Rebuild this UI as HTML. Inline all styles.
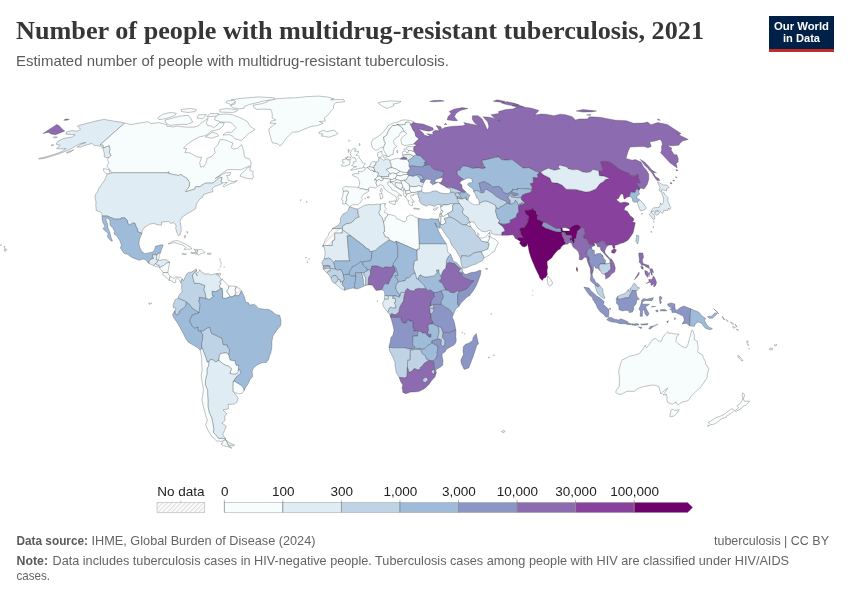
<!DOCTYPE html>
<html><head><meta charset="utf-8"><title>Number of people with multidrug-resistant tuberculosis, 2021</title>
<style>
html,body{margin:0;padding:0;background:#fff}
body{width:850px;height:600px;overflow:hidden;position:relative;font-family:"Liberation Sans",sans-serif}
svg{position:absolute;left:0;top:0}
#map path{stroke:#333;stroke-width:.35;stroke-opacity:.85;stroke-linejoin:round}
text{font-family:"Liberation Sans",sans-serif}
.ttl{font-family:"Liberation Serif",serif;font-weight:700;font-size:26px;fill:#363636}
.sub{font-size:15px;fill:#5b5b5b}
.ft{font-size:13px;fill:#646464}
.lg{font-size:13.5px;fill:#222;text-anchor:middle}
.b{font-weight:700;fill:#5b5b5b}
</style></head><body>
<svg width="850" height="600" viewBox="0 0 850 600">
<defs><pattern id="nd" width="3.2" height="3.2" patternUnits="userSpaceOnUse" patternTransform="rotate(45)"><rect width="3.2" height="3.2" fill="#fafafa"/><line x1="0" y1="0" x2="0" y2="3.2" stroke="#d6d6d6" stroke-width="1.4"/></pattern><pattern id="ndm" width="4.4" height="4.4" patternUnits="userSpaceOnUse" patternTransform="rotate(45)"><rect width="4.4" height="4.4" fill="#fff"/><rect width="2.2" height="4.4" fill="#ebebeb"/></pattern></defs>
<text class="ttl" x="16" y="39" textLength="688" lengthAdjust="spacingAndGlyphs">Number of people with multidrug-resistant tuberculosis, 2021</text>
<text class="sub" x="16" y="66" textLength="433" lengthAdjust="spacingAndGlyphs">Estimated number of people with multidrug-resistant tuberculosis.</text>
<g id="logo">
<rect x="769" y="16" width="65" height="35.7" fill="#002147"/>
<rect x="769" y="49" width="65" height="2.7" fill="#ce261e"/>
<text x="801.5" y="30.4" text-anchor="middle" font-size="11.6" font-weight="700" fill="#fff" textLength="55" lengthAdjust="spacingAndGlyphs">Our World</text>
<text x="801.5" y="42.4" text-anchor="middle" font-size="11.6" font-weight="700" fill="#fff" textLength="37" lengthAdjust="spacingAndGlyphs">in Data</text>
</g>
<g id="map">
<path d="M279.9,145.8L277.0,143.4L272.5,143.0L271.1,139.4L270.0,135.4L269.1,131.2L268.9,128.9L273.5,125.1L276.0,123.3L270.1,123.3L271.2,121.1L275.9,120.0L272.1,117.9L272.3,114.7L271.7,111.5L270.8,109.5L263.3,109.1L256.8,109.5L253.9,107.6L253.0,105.2L261.8,103.7L267.8,101.7L267.5,100.5L276.1,98.9L285.2,98.1L295.2,97.8L307.0,96.6L318.3,96.1L327.5,97.0L333.9,98.6L330.7,99.8L343.6,99.4L344.6,101.7L335.7,102.7L333.5,105.6L333.6,108.5L330.6,111.5L328.4,114.7L324.4,117.9L325.4,121.1L319.4,121.5L323.2,123.3L317.7,125.5L310.6,126.7L304.8,128.9L298.7,131.7L292.4,132.3L288.6,135.8L284.4,140.6L282.3,144.2Z" fill="#f7fcfd"/>
<path d="M318.8,132.3L323.6,130.3L326.9,131.7L330.5,130.8L334.1,130.1L336.4,132.3L338.1,133.5L335.2,135.1L328.7,137.3L324.3,136.3L321.3,136.1L322.9,134.0L319.4,133.7Z" fill="#f7fcfd"/>
<path d="M124.5,123.1L131.1,124.6L137.8,123.3L148.0,121.7L151.0,123.5L158.7,122.6L166.8,124.6L166.9,126.2L173.2,126.9L177.4,126.0L181.9,126.7L186.7,127.1L193.6,127.1L197.9,126.0L201.0,123.3L208.2,118.1L206.4,122.8L207.7,125.5L211.4,126.2L213.7,127.8L217.9,124.4L219.2,122.6L224.1,122.8L223.4,125.5L219.8,128.9L215.2,130.5L211.2,131.2L207.0,134.7L204.4,135.8L199.1,137.0L191.8,141.1L185.9,145.3L183.6,148.3L186.7,148.5L184.9,152.7L189.7,152.7L192.5,154.4L196.8,156.9L201.8,157.4L199.7,162.7L200.6,167.0L203.9,166.5L205.7,163.9L206.9,160.2L206.8,158.4L211.7,156.4L215.2,152.7L214.1,148.3L217.6,145.3L220.1,139.6L224.5,139.9L227.7,140.6L229.8,141.8L232.9,143.0L231.3,147.8L233.6,149.0L237.7,148.3L241.6,144.6L242.2,146.6L243.9,151.5L244.2,155.2L245.1,157.6L249.5,158.9L251.2,162.7L250.9,165.2L247.8,166.7L240.7,169.8L232.7,169.5L227.6,169.8L223.6,172.3L218.0,176.7L215.2,178.5L219.3,175.9L225.5,172.8L230.6,172.6L229.7,175.4L226.6,175.4L227.8,178.0L228.2,180.1L230.9,181.1L233.9,181.6L237.3,180.6L234.6,182.6L228.9,184.2L223.9,187.1L222.8,185.8L227.4,182.4L222.0,182.9L220.9,181.3L222.1,177.7L219.5,177.0L215.9,180.8L212.5,183.1L205.8,183.1L204.4,183.7L201.4,185.5L200.2,186.7L196.2,186.7L195.0,187.2L195.1,187.7L195.0,188.9L192.8,189.7L189.5,190.5L185.9,191.8L185.3,191.0L187.2,189.4L189.0,186.8L189.8,182.4L188.3,181.1L188.6,180.3L187.0,179.3L186.8,178.2L184.0,176.7L181.0,174.6L178.4,175.4L173.7,174.6L168.8,173.6L168.6,171.8L168.1,172.8L111.7,172.8L111.4,172.1L109.9,169.5L106.8,166.5L108.7,162.7L107.4,159.4L108.8,157.6L111.0,155.2L109.3,152.7L109.9,149.0L109.3,146.6L109.1,145.8L103.3,148.0L103.0,145.3L100.1,144.6Z" fill="#f7fcfd"/>
<path d="M255.0,129.6L248.6,133.5L245.0,137.0L241.4,140.6L235.0,138.9L232.8,136.3L229.3,134.7L222.8,135.1L226.3,132.3L231.6,132.3L236.1,127.8L234.1,125.5L230.9,122.6L227.9,122.1L221.2,122.1L218.7,121.1L214.7,120.0L214.9,117.9L217.8,114.7L226.3,114.0L232.2,114.7L235.9,116.2L239.8,117.5L244.5,120.0L248.0,122.1L249.5,125.5L253.1,128.3Z" fill="#f7fcfd"/>
<path d="M169.6,118.9L179.3,116.2L188.3,115.3L190.4,117.9L192.7,122.1L187.3,124.4L180.6,124.4L169.5,125.3L165.4,122.6L165.0,120.0Z" fill="#f7fcfd"/>
<path d="M157.7,117.9L158.9,119.6L164.6,118.9L174.9,115.7L176.3,113.2L170.7,112.5L163.3,114.0Z" fill="#f7fcfd"/>
<path d="M243.9,108.5L238.9,108.9L232.6,107.6L230.2,105.6L235.3,103.7L232.6,100.9L231.2,99.8L241.7,98.3L258.6,96.9L274.3,97.8L274.3,99.4L264.2,100.9L256.8,102.7L249.1,104.6L244.2,106.6Z" fill="#f7fcfd"/>
<path d="M236.4,111.5L232.3,112.5L220.1,112.1L219.7,109.5L227.0,108.5L237.9,109.9Z" fill="#f7fcfd"/>
<path d="M231.2,104.6L226.1,102.7L226.8,100.9L233.6,100.2L235.9,101.7Z" fill="#f7fcfd"/>
<path d="M195.5,111.5L188.1,112.5L181.4,111.5L181.1,109.5L190.2,108.5L196.5,109.5Z" fill="#f7fcfd"/>
<path d="M216.5,116.2L207.0,116.8L210.0,113.6L218.7,113.6Z" fill="#f7fcfd"/>
<path d="M202.5,118.9L197.0,117.9L198.6,114.7L206.6,114.7Z" fill="#f7fcfd"/>
<path d="M218.8,135.8L211.9,138.2L205.4,137.0L212.2,132.3L216.7,133.5Z" fill="#f7fcfd"/>
<path d="M240.1,176.2L246.3,178.2L252.3,179.0L253.7,176.2L252.6,174.1L253.3,171.5L249.6,170.3L250.9,166.5L247.5,167.7L244.2,171.5L240.8,174.1Z" fill="#f7fcfd"/>
<path d="M103.6,168.5L109.3,169.8L109.8,173.6L109.2,174.6L105.9,173.4L103.5,170.8Z" fill="#f7fcfd"/>
<path d="M106.9,174.4L111.7,172.8L168.1,172.8L168.6,171.8L168.8,173.6L173.7,174.6L178.4,175.4L181.0,174.6L184.0,176.7L186.8,178.2L187.0,179.3L188.6,180.3L188.3,181.1L189.8,182.4L189.0,186.8L187.2,189.4L185.3,191.0L185.9,191.8L189.5,190.5L192.8,189.7L195.0,188.9L195.1,187.7L195.0,187.2L196.2,186.7L200.2,186.7L201.4,185.5L204.4,183.7L205.8,183.1L212.5,183.1L215.9,180.8L219.5,177.0L222.1,177.7L220.9,181.3L222.0,182.9L221.7,183.9L216.9,185.8L214.1,186.8L212.0,189.2L213.2,191.0L212.9,191.8L210.2,192.3L203.4,194.6L202.5,197.5L200.0,198.8L198.2,201.5L196.3,204.1L195.7,208.6L192.3,210.7L189.8,212.3L185.9,214.6L181.9,217.3L180.0,221.2L181.0,226.5L181.3,231.0L179.9,235.0L178.2,235.5L176.9,232.6L175.7,228.4L176.1,225.2L173.9,222.6L170.8,223.4L168.5,221.5L165.1,221.8L161.7,222.0L161.5,225.2L157.7,224.7L153.5,223.4L149.6,224.2L144.9,227.1L142.3,230.5L141.9,233.3L137.7,231.8L137.6,229.2L136.0,226.5L134.8,223.1L132.3,223.2L130.2,225.2L127.7,223.6L127.4,220.7L125.0,217.9L121.2,217.9L120.8,219.1L114.4,219.1L107.2,216.0L102.1,216.0L102.1,214.6L100.6,212.0L96.3,210.7L95.8,205.2L96.0,202.0L95.2,197.5L95.1,195.2L97.9,191.0L98.7,188.4L104.7,180.1Z" fill="#e0ecf4"/>
<path d="M124.5,123.1L100.1,144.6L103.0,145.3L103.3,148.0L109.1,145.8L109.3,146.6L109.9,149.0L109.3,152.7L111.0,155.2L108.8,157.6L105.8,157.6L104.0,156.4L104.4,153.9L103.8,151.5L103.5,149.8L102.5,147.8L100.4,146.1L93.7,145.3L92.1,143.4L85.3,145.3L80.7,147.1L77.1,147.3L81.1,144.2L85.8,142.5L81.0,143.4L74.7,146.6L70.9,148.8L63.6,152.0L56.7,154.7L48.9,157.1L43.7,158.4L38.5,159.1L39.2,158.4L45.0,157.1L50.8,155.4L58.2,153.0L62.3,151.2L66.0,148.5L61.7,149.0L56.6,148.5L60.2,145.3L56.1,144.2L57.8,141.3L62.7,138.9L64.5,138.2L72.3,137.0L75.2,134.7L71.6,134.7L66.0,134.2L66.2,132.1L71.9,130.5L77.1,131.2L80.5,129.4L79.2,127.8L77.4,126.0L81.9,124.6L87.2,123.3L95.5,121.1L103.8,119.4L109.8,120.4L115.1,121.3L120.6,122.1Z" fill="#e0ecf4"/>
<path d="M66.8,152.2L73.8,149.8L71.1,151.7L66.7,153.2Z" fill="#e0ecf4"/>
<path d="M4.7,248.5L6.7,249.5L5.1,251.6L4.2,250.3Z" fill="#e0ecf4"/>
<path d="M102.1,216.0L107.2,216.0L114.4,219.1L120.8,219.1L121.2,217.9L125.0,217.9L127.4,220.7L127.7,223.6L130.2,225.2L132.3,223.2L134.8,223.1L136.0,226.5L137.6,229.2L137.7,231.8L141.9,233.3L139.8,238.4L138.9,242.9L139.6,246.9L141.5,251.1L144.8,253.7L149.6,252.7L153.1,252.1L154.6,249.5L155.5,246.3L161.0,244.8L163.2,245.0L161.3,250.3L160.3,253.5L159.2,252.9L157.2,254.4L157.0,254.8L152.7,254.8L152.6,256.2L153.7,258.5L150.6,259.3L149.2,261.4L148.9,263.4L145.2,259.5L143.0,259.0L139.4,260.3L135.0,258.8L131.9,257.4L127.5,254.3L124.2,253.5L122.7,251.4L120.4,247.9L121.4,245.0L119.7,240.5L116.8,235.8L114.1,234.2L114.6,231.3L112.9,228.1L110.0,225.2L109.8,219.9L106.6,217.8L106.0,219.9L107.5,223.9L108.0,227.9L109.8,232.3L111.2,237.9L112.5,240.8L111.3,241.3L107.5,237.1L108.0,233.1L104.6,230.5L102.9,228.4L105.0,226.5L102.9,222.6L102.0,218.6Z" fill="#9ebcda"/>
<path d="M148.9,263.4L149.2,261.4L150.6,259.3L153.7,258.5L152.6,256.2L152.7,254.8L157.0,254.8L156.3,259.8L158.5,260.3L155.6,263.8L153.6,265.5Z" fill="#e0ecf4"/>
<path d="M157.0,254.8L157.2,254.4L159.2,252.9L159.3,255.6L158.6,259.8L156.3,259.8Z" fill="#f7fcfd"/>
<path d="M153.6,265.5L155.6,263.8L157.4,264.8L159.2,265.4L158.8,266.9L156.1,266.7Z" fill="#f7fcfd"/>
<path d="M158.5,260.3L161.3,260.1L163.7,259.5L167.1,260.1L169.8,262.2L166.8,263.0L164.3,265.1L161.4,266.7L159.9,267.5L159.2,265.4L157.4,264.8L155.6,263.8Z" fill="#e0ecf4"/>
<path d="M169.8,262.2L168.7,267.5L167.8,272.7L163.2,272.5L161.6,270.1L159.0,267.7L159.9,267.5L161.4,266.7L164.3,265.1L166.8,263.0Z" fill="#f7fcfd"/>
<path d="M167.8,272.7L170.1,276.4L169.2,280.4L167.9,279.4L164.6,275.9L162.8,274.9L163.2,272.5Z" fill="#f7fcfd"/>
<path d="M170.1,276.4L173.8,278.3L176.4,277.0L180.8,277.2L182.1,278.8L180.8,282.8L179.5,279.9L177.3,278.0L175.6,279.9L175.9,282.3L173.6,282.8L172.5,281.2L169.2,280.4Z" fill="#f7fcfd"/>
<path d="M168.1,244.0L172.9,241.1L177.5,240.5L181.8,242.4L186.1,244.5L190.4,247.1L192.0,248.5L190.1,249.2L183.9,249.4L185.8,247.4L182.6,245.0L178.2,243.7L174.9,242.6L171.5,243.2Z" fill="#f7fcfd"/>
<path d="M190.9,253.2L194.2,253.7L197.1,254.1L197.5,249.8L193.8,249.2L195.3,250.6L195.7,252.7L191.1,252.5Z" fill="#e0ecf4"/>
<path d="M197.1,254.1L197.5,249.8L201.5,249.5L203.7,251.1L204.9,252.7L201.2,253.5L198.7,255.1Z" fill="#f7fcfd"/>
<path d="M182.1,253.5L186.6,254.0L186.1,254.5L182.2,254.3Z" fill="#f7fcfd"/>
<path d="M207.6,253.2L211.1,253.2L210.7,254.3L207.5,254.3Z" fill="#f7fcfd"/>
<path d="M184.3,235.8L185.7,235.5L185.1,237.9L184.3,237.6Z" fill="#f7fcfd"/>
<path d="M186.8,231.5L187.9,231.8L187.2,233.4Z" fill="#f7fcfd"/>
<path d="M218.6,273.5L220.5,273.3L220.4,275.1L218.5,275.1Z" fill="#f7fcfd"/>
<path d="M182.1,278.8L183.4,280.7L184.7,278.0L186.5,274.1L188.5,272.5L191.6,272.0L194.7,270.1L196.2,268.9L196.7,270.6L194.5,272.5L192.5,275.4L193.5,279.9L194.5,283.3L199.1,283.3L204.9,285.4L204.0,289.9L205.1,292.6L205.8,296.5L206.0,298.6L199.2,297.3L199.9,300.0L198.7,300.5L200.1,304.4L199.0,312.9L197.7,311.8L192.0,308.1L189.4,304.4L186.3,302.1L184.0,300.7L181.2,299.7L178.2,298.1L179.0,295.2L182.1,291.8L181.5,287.3L181.9,283.8L180.8,282.8Z" fill="#bfd3e6"/>
<path d="M196.7,270.6L195.9,273.0L197.1,275.9L196.6,273.3L199.2,271.4L199.8,269.6L200.9,271.4L203.5,273.0L204.2,274.1L208.8,273.8L211.1,275.1L213.5,274.1L218.1,273.5L216.2,274.3L219.2,275.9L220.7,279.1L222.5,279.4L219.6,282.0L221.2,283.3L219.3,286.0L220.6,288.1L218.7,290.2L215.2,291.8L212.2,291.2L212.3,295.2L214.2,296.0L209.2,299.7L206.0,298.6L205.8,296.5L205.1,292.6L204.0,289.9L204.9,285.4L199.1,283.3L194.5,283.3L193.5,279.9L192.5,275.4L194.5,272.5Z" fill="#e0ecf4"/>
<path d="M222.5,279.4L225.9,283.3L228.8,286.0L228.5,288.6L226.8,291.2L228.0,293.1L230.3,296.8L225.6,298.4L222.5,298.1L222.6,292.6L222.2,288.6L220.6,288.1L219.3,286.0L221.2,283.3L219.6,282.0Z" fill="#f7fcfd"/>
<path d="M228.8,286.0L232.8,286.1L236.3,286.5L235.0,289.9L236.1,292.6L234.7,295.7L231.4,296.8L230.3,296.8L228.0,293.1L226.8,291.2L228.5,288.6Z" fill="#f7fcfd"/>
<path d="M236.3,286.5L239.7,288.9L241.5,290.7L239.1,295.7L234.7,295.7L236.1,292.6L235.0,289.9Z" fill="url(#ndm)"/>
<path d="M178.2,298.1L181.2,299.7L184.0,300.7L186.3,302.1L185.9,305.8L183.0,308.7L179.7,310.8L179.1,313.7L176.8,315.0L174.9,313.4L174.8,310.8L176.0,308.4L173.1,307.6L173.3,304.4L175.2,299.7Z" fill="#bfd3e6"/>
<path d="M174.8,310.8L174.9,313.4L176.8,315.0L179.1,313.7L179.7,310.8L183.0,308.7L185.9,305.8L186.3,302.1L189.4,304.4L192.0,308.1L197.7,311.8L199.0,312.9L192.4,315.0L190.2,319.0L189.9,321.6L192.4,326.1L194.3,328.2L198.0,326.9L198.2,330.9L200.5,330.7L202.9,334.8L202.5,340.1L201.5,344.1L202.1,348.0L200.3,350.3L197.7,347.8L192.6,344.8L188.4,342.2L185.6,338.5L183.3,333.5L180.4,328.2L177.1,322.4L173.6,317.6L172.6,314.2Z" fill="#9ebcda"/>
<path d="M200.5,330.7L202.9,334.8L202.5,340.1L201.5,344.1L202.1,348.0L203.6,352.0L205.2,355.9L207.2,362.0L208.8,362.0L210.6,359.4L213.6,360.2L215.4,362.0L218.9,360.4L219.4,355.9L220.3,353.6L226.7,352.8L228.7,354.9L229.3,352.0L229.8,349.3L227.6,347.2L227.4,344.8L223.2,344.6L222.1,338.2L218.5,336.7L214.9,334.8L211.8,333.5L210.5,330.6L210.1,327.4L207.3,327.9L203.1,330.9Z" fill="#bfd3e6"/>
<path d="M241.5,290.7L244.3,296.5L245.4,300.5L245.4,301.8L248.9,303.1L248.9,305.0L254.7,304.4L258.7,308.4L264.1,309.2L268.8,309.5L272.3,311.6L275.8,314.5L279.8,315.5L281.0,320.6L280.7,325.6L276.2,330.9L272.9,336.1L271.9,341.4L271.8,348.0L270.7,353.3L269.7,355.4L268.4,359.9L266.3,362.5L263.6,362.5L260.7,363.3L256.7,365.2L253.1,368.6L252.1,371.8L252.7,376.5L249.9,379.7L248.2,383.7L246.0,386.8L244.0,390.8L243.3,387.6L240.6,385.0L237.9,383.4L234.9,381.6L233.1,381.6L236.1,377.1L238.1,375.2L240.6,373.4L240.7,371.0L238.3,369.4L238.5,365.4L236.0,365.2L234.9,360.7L230.1,360.2L228.7,354.9L229.3,352.0L229.8,349.3L227.6,347.2L227.4,344.8L223.2,344.6L222.1,338.2L218.5,336.7L214.9,334.8L211.8,333.5L210.5,330.6L210.1,327.4L207.3,327.9L203.1,330.9L200.5,330.7L198.2,330.9L198.0,326.9L194.3,328.2L192.4,326.1L189.9,321.6L190.2,319.0L192.4,315.0L199.0,312.9L200.1,304.4L198.7,300.5L199.9,300.0L199.2,297.3L206.0,298.6L209.2,299.7L214.2,296.0L212.3,295.2L212.2,291.2L215.2,291.8L218.7,290.2L220.6,288.1L222.2,288.6L222.6,292.6L222.5,298.1L225.6,298.4L230.3,296.8L231.4,296.8L234.7,295.7L239.1,295.7Z" fill="#9ebcda"/>
<path d="M218.9,360.4L219.4,355.9L220.3,353.6L226.7,352.8L228.7,354.9L230.1,360.2L234.9,360.7L236.0,365.2L238.5,365.4L238.3,369.4L238.3,371.8L236.1,374.2L233.4,374.2L229.8,373.6L231.4,368.9L229.1,366.5L225.5,365.2L223.1,363.9Z" fill="#f7fcfd"/>
<path d="M233.1,381.6L234.9,381.6L237.9,383.4L240.6,385.0L243.3,387.6L244.0,390.8L242.0,393.4L238.4,394.0L233.1,391.6L232.8,387.6Z" fill="#f7fcfd"/>
<path d="M208.8,362.0L210.6,359.4L213.6,360.2L215.4,362.0L218.9,360.4L223.1,363.9L225.5,365.2L229.1,366.5L231.4,368.9L229.8,373.6L233.4,374.2L236.1,374.2L238.3,371.8L238.3,369.4L240.7,371.0L240.6,373.4L238.1,375.2L236.1,377.1L233.1,381.6L232.8,387.6L233.1,391.6L236.5,395.6L238.1,398.2L237.0,402.1L234.4,404.0L228.0,404.5L228.6,408.7L223.0,410.0L226.9,413.9L224.7,415.8L225.1,420.5L221.8,423.0L226.3,426.1L224.4,430.8L222.8,434.6L225.9,439.2L222.4,438.4L218.4,438.4L216.0,435.1L213.1,432.1L213.8,429.5L212.8,423.0L211.7,417.8L209.3,412.6L207.9,406.1L208.0,400.8L207.7,395.6L207.6,390.3L205.4,385.0L205.5,379.7L206.9,374.4L206.9,369.1L208.5,365.7Z" fill="#e0ecf4"/>
<path d="M225.9,440.0L228.3,445.7L232.5,446.0L234.6,445.1L230.5,443.4L227.7,441.4Z" fill="#e0ecf4"/>
<path d="M225.9,440.0L222.5,440.4L222.8,442.9L220.9,444.0L223.6,445.7L227.9,446.7L231.9,448.2L228.3,445.7Z" fill="#f7fcfd"/>
<path d="M200.3,350.3L202.1,348.0L203.6,352.0L205.2,355.9L207.2,362.0L208.8,362.0L208.5,365.7L206.9,369.1L206.9,374.4L205.5,379.7L205.4,385.0L207.6,390.3L207.7,395.6L208.0,400.8L207.9,406.1L209.3,412.6L211.7,417.8L212.8,423.0L213.8,429.5L213.1,432.1L216.0,435.1L218.4,438.4L222.4,438.4L225.9,439.2L221.9,441.4L216.6,440.9L211.3,435.9L207.6,429.5L205.6,424.8L207.3,420.5L205.8,416.0L204.9,412.1L203.4,406.9L201.9,400.0L202.7,395.6L203.4,389.0L201.9,381.0L201.2,375.7L202.2,369.1L201.7,363.9L201.7,357.3Z" fill="#f7fcfd"/>
<path d="M378.1,102.7L382.3,101.7L390.8,100.9L401.0,101.4L398.7,103.1L393.0,104.1L394.2,105.6L389.4,107.6L387.3,108.5L383.1,106.6L379.8,104.6Z" fill="#f7fcfd"/>
<path d="M375.3,150.3L372.3,147.8L371.2,143.0L372.9,139.4L377.3,137.0L380.7,134.7L383.9,131.2L387.0,127.8L387.6,126.0L392.3,123.3L397.2,122.1L401.0,120.4L405.0,119.8L409.3,120.4L413.8,121.5L412.5,123.1L413.9,122.6L411.1,124.2L408.9,122.1L405.6,122.4L405.2,124.4L401.1,125.1L396.9,124.3L396.1,125.5L392.7,125.5L389.7,128.9L388.3,131.2L386.9,134.7L386.2,135.8L383.6,137.0L384.4,141.8L385.6,143.0L384.4,145.3L383.6,147.8L382.7,147.6L381.7,147.1L379.9,148.3L378.1,149.8Z" fill="#f7fcfd"/>
<path d="M383.1,147.8L383.8,150.3L385.0,152.7L386.7,155.2L387.0,156.6L389.7,156.4L390.0,155.2L392.8,154.7L393.4,151.5L394.0,148.5L396.6,146.6L394.0,143.7L393.4,140.6L395.5,138.2L398.8,136.3L400.1,133.5L401.2,131.7L404.4,131.7L403.3,130.1L402.5,127.8L399.6,125.8L396.9,124.3L396.1,125.5L392.7,125.5L389.7,128.9L388.3,131.2L386.9,134.7L386.2,135.8L383.6,137.0L384.4,141.8L385.6,143.0L384.4,145.3L383.6,147.8Z" fill="#f7fcfd"/>
<path d="M404.4,131.7L406.8,133.5L405.6,134.7L402.5,137.0L400.7,139.4L401.7,143.0L401.5,144.2L404.9,145.6L408.5,144.9L413.5,144.2L415.3,142.3L419.1,138.7L415.8,136.3L414.9,132.3L412.7,129.4L411.7,126.7L410.4,124.6L411.1,124.2L408.9,122.1L405.6,122.4L405.2,124.4L401.1,125.1L396.9,124.3L399.6,125.8L402.5,127.8L403.3,130.1Z" fill="#f7fcfd"/>
<path d="M378.8,157.9L377.7,156.2L377.7,152.7L382.0,151.0L381.8,153.9L382.8,154.4L381.0,156.9L380.5,158.0ZM383.1,155.9L386.1,155.2L386.3,156.9L385.0,158.4L383.4,157.1Z" fill="#f7fcfd"/>
<path d="M350.5,170.3L354.9,169.5L359.0,168.5L364.6,167.5L363.0,166.5L365.4,163.7L362.6,162.7L362.0,161.2L359.7,158.6L358.9,156.4L358.1,155.4L356.2,155.2L358.2,152.7L358.6,151.2L354.4,151.2L356.3,148.8L352.6,148.8L350.9,151.5L350.1,153.5L351.3,156.4L352.6,157.6L355.2,157.9L356.1,160.2L356.1,161.7L353.1,161.9L353.7,163.9L351.6,165.5L355.0,166.7L356.6,166.5L353.6,167.5ZM349.8,159.9L351.2,158.9L350.3,157.1L347.8,156.9L346.2,158.9L347.7,159.9Z" fill="#f7fcfd"/>
<path d="M349.8,159.9L347.7,159.9L346.2,158.9L347.8,156.9L345.4,157.6L345.4,159.4L342.4,159.6L342.3,161.7L344.2,162.2L343.2,163.4L341.3,165.0L342.0,166.2L345.0,166.2L349.5,164.7L350.2,161.9Z" fill="#f7fcfd"/>
<path d="M358.2,187.3L359.5,184.5L359.7,181.6L357.9,178.5L356.8,177.2L352.8,175.7L352.2,174.4L355.9,173.4L358.7,173.9L358.6,171.0L360.0,171.8L362.4,171.5L365.0,169.8L365.2,168.0L367.1,167.5L368.4,168.2L370.5,170.3L371.8,169.9L373.8,171.5L375.0,171.5L378.7,172.8L377.6,176.4L374.4,180.1L376.1,179.5L376.6,180.8L376.0,182.9L376.7,185.2L377.8,186.3L375.7,188.1L373.2,187.6L370.4,187.1L368.6,188.1L368.6,189.9L365.2,189.7L363.5,188.9L360.9,188.9ZM380.2,189.9L381.9,188.4L382.2,191.0L381.6,192.5L380.3,191.2Z" fill="#f7fcfd"/>
<path d="M358.2,187.3L360.9,188.9L363.5,188.9L365.2,189.7L368.6,189.9L368.8,191.2L366.7,192.5L363.5,194.4L361.4,197.5L362.4,199.4L360.5,202.5L357.6,204.6L352.4,204.9L349.7,206.7L348.2,205.2L345.9,203.6L345.7,201.5L346.8,200.1L346.3,197.5L347.2,194.9L348.8,192.0L348.0,191.1L344.6,191.2L343.3,191.2L342.3,188.4L345.2,186.5L349.8,186.8L354.0,187.1ZM367.0,197.3L369.3,196.5L368.9,198.0Z" fill="#f7fcfd"/>
<path d="M343.3,191.2L344.6,191.2L348.0,191.1L348.8,192.0L347.2,194.9L346.3,197.5L346.8,200.1L345.7,201.5L345.9,203.6L342.6,204.1L342.9,200.4L341.5,199.6L342.9,195.7Z" fill="#f7fcfd"/>
<path d="M367.1,167.5L368.8,166.8L370.6,166.7L373.8,167.5L373.5,168.2L374.7,169.2L374.3,170.0L373.8,171.5L371.8,169.9L370.5,170.3L368.4,168.2Z" fill="#f7fcfd"/>
<path d="M368.8,166.8L370.0,165.2L371.3,162.7L372.8,161.7L376.2,161.9L375.9,163.7L375.9,164.7L374.0,165.7L374.4,166.7L373.8,167.5L370.6,166.7Z" fill="#f7fcfd"/>
<path d="M373.8,171.5L374.3,170.0L375.2,170.8L375.0,171.5Z" fill="#f7fcfd"/>
<path d="M376.2,161.9L378.3,161.2L378.8,157.9L380.5,158.0L381.6,158.9L383.6,160.2L386.5,159.1L388.4,158.9L389.9,160.4L390.5,162.7L391.0,163.9L391.4,166.5L392.1,167.7L390.7,167.7L386.4,169.5L390.2,173.4L390.2,173.9L388.6,174.6L388.8,176.7L383.6,176.7L381.8,176.7L379.7,176.2L377.6,176.4L378.7,172.8L375.0,171.5L375.2,170.8L374.3,170.0L374.7,169.2L373.5,168.2L373.8,167.5L374.4,166.7L374.0,165.7L375.9,164.7L375.9,163.7Z" fill="#e0ecf4"/>
<path d="M374.4,180.1L377.6,176.4L379.7,176.2L381.8,176.7L381.6,178.0L383.7,178.2L383.0,180.1L380.7,181.1L379.4,179.5L376.6,180.8L376.1,179.5Z" fill="#f7fcfd"/>
<path d="M381.8,176.7L383.6,176.7L388.8,176.7L388.6,174.6L390.2,173.9L392.6,172.8L396.5,173.6L397.1,175.4L395.3,178.2L392.3,179.5L390.4,179.3L387.6,178.8L383.7,178.2L381.6,178.0Z" fill="#f7fcfd"/>
<path d="M377.8,186.3L376.7,185.2L376.0,182.9L376.6,180.8L379.4,179.5L380.7,181.1L383.0,180.1L383.7,178.2L387.6,178.8L390.4,179.3L390.3,181.1L390.7,181.6L387.7,182.1L388.0,185.2L390.7,187.1L392.1,189.9L396.0,191.2L401.8,195.9L398.5,194.9L397.7,197.0L398.9,198.8L396.9,201.7L396.0,200.9L396.6,198.8L395.5,196.2L392.9,194.6L388.2,191.8L384.2,188.6L383.5,186.0L380.7,184.7ZM389.1,201.5L395.8,200.9L395.0,204.9L389.2,202.5ZM379.5,193.9L381.6,193.1L382.9,196.2L382.5,198.3L380.6,199.1L380.1,196.2Z" fill="#f7fcfd"/>
<path d="M389.9,160.4L393.3,159.4L397.7,158.1L400.4,159.1L406.6,159.3L408.1,160.2L409.4,163.4L409.0,165.0L409.2,166.2L410.3,168.2L407.9,171.5L408.0,172.6L402.7,172.3L400.2,171.5L396.3,169.2L392.1,167.7L391.4,166.5L391.0,163.9L390.5,162.7Z" fill="#f7fcfd"/>
<path d="M386.4,169.5L390.7,167.7L392.1,167.7L396.3,169.2L400.2,171.5L396.9,173.4L396.5,173.6L392.6,172.8L390.2,173.9L390.2,173.4Z" fill="#f7fcfd"/>
<path d="M396.5,173.6L396.9,173.4L400.2,171.5L402.7,172.3L408.0,172.6L407.4,174.4L404.0,174.6L400.6,175.9L397.1,175.4Z" fill="#f7fcfd"/>
<path d="M395.3,178.2L397.1,175.4L400.6,175.9L404.0,174.6L407.4,174.4L409.0,175.4L406.0,180.1L404.1,180.3L401.1,180.8L396.2,179.5Z" fill="#f7fcfd"/>
<path d="M390.4,179.3L392.3,179.5L395.3,178.2L396.2,179.5L393.9,181.9L390.3,181.9L390.7,181.6L390.3,181.1Z" fill="#f7fcfd"/>
<path d="M390.3,181.9L393.9,181.9L396.2,179.5L401.1,180.8L401.7,183.4L395.4,182.6L395.2,185.2L399.0,188.4L401.2,189.7L395.7,187.1L393.5,185.0L391.9,182.6L390.4,183.1Z" fill="#f7fcfd"/>
<path d="M395.4,182.6L401.7,183.4L402.8,185.8L402.5,187.1L401.2,189.7L399.0,188.4L395.2,185.2Z" fill="#f7fcfd"/>
<path d="M401.7,183.4L401.1,180.8L404.1,180.3L406.7,182.6L409.2,184.2L409.7,187.8L409.6,190.2L407.7,190.5L405.6,191.2L404.3,188.9L402.5,187.1L402.8,185.8Z" fill="#f7fcfd"/>
<path d="M401.2,189.7L402.5,187.1L404.3,188.9L403.3,191.2Z" fill="#f7fcfd"/>
<path d="M403.3,191.2L404.3,188.9L405.6,191.2L405.8,193.6L407.0,194.1L405.5,197.0L403.6,195.2L403.6,192.3Z" fill="#f7fcfd"/>
<path d="M405.6,191.2L407.7,190.5L409.6,190.2L411.1,192.5L410.5,193.1L407.0,194.1L405.8,193.6Z" fill="#f7fcfd"/>
<path d="M405.5,197.0L407.0,194.1L410.5,193.1L411.1,192.5L414.2,192.3L417.4,191.8L418.6,192.8L417.7,194.1L413.4,194.1L413.5,195.7L410.9,194.9L410.9,197.5L412.9,200.1L414.1,201.5L414.1,202.3L411.9,201.7L412.7,205.4L411.0,205.7L409.3,204.6L408.0,202.0L409.2,200.7L407.5,200.4L406.7,198.8ZM413.6,208.0L419.8,208.8L419.2,209.4L413.9,208.8Z" fill="#f7fcfd"/>
<path d="M409.6,190.2L409.7,187.8L409.3,185.2L410.4,186.3L415.7,186.5L418.7,185.5L422.2,186.5L421.5,191.0L417.4,191.8L414.2,192.3L411.1,192.5Z" fill="#f7fcfd"/>
<path d="M404.1,180.3L406.0,180.1L409.0,175.4L413.2,176.2L416.5,174.8L420.1,178.5L420.8,181.9L424.0,182.6L422.2,186.5L418.7,185.5L415.7,186.5L410.4,186.3L409.3,185.2L409.2,184.2L406.7,182.6Z" fill="#e0ecf4"/>
<path d="M416.5,174.8L418.9,174.4L421.9,175.7L424.4,179.5L421.9,179.5L420.8,181.9L420.1,178.5Z" fill="#9ebcda"/>
<path d="M407.4,174.4L408.0,172.6L407.9,171.5L410.3,168.2L409.2,166.2L411.9,165.5L417.0,166.5L423.1,166.7L423.8,165.0L425.4,165.0L429.2,164.4L433.6,169.0L439.0,170.5L443.4,171.3L443.6,175.4L440.8,177.7L437.5,178.8L434.7,180.3L435.7,182.4L438.1,182.1L435.3,183.7L432.5,184.7L429.8,182.1L431.8,180.3L428.3,179.3L425.8,179.3L424.0,182.6L420.8,181.9L421.9,179.5L424.4,179.5L421.9,175.7L418.9,174.4L416.5,174.8L413.2,176.2L409.0,175.4Z" fill="#8c96c6"/>
<path d="M409.2,166.2L409.0,165.0L409.4,163.4L408.1,160.2L412.3,157.9L413.5,155.9L416.4,154.9L421.9,156.2L422.2,157.9L426.5,161.7L424.3,162.4L425.4,165.0L423.8,165.0L423.1,166.7L417.0,166.5L411.9,165.5Z" fill="#9ebcda"/>
<path d="M402.6,154.9L409.9,154.2L413.5,155.9L412.3,157.9L408.1,160.2L406.6,159.3L406.5,157.9L403.4,157.1Z" fill="#e0ecf4"/>
<path d="M402.6,154.9L402.2,152.7L403.1,151.2L405.0,150.9L406.6,152.7L408.1,152.7L408.3,150.5L410.4,150.3L414.2,151.5L415.5,153.2L416.4,154.9L413.5,155.9L409.9,154.2Z" fill="#f7fcfd"/>
<path d="M408.3,150.5L406.3,148.3L406.1,147.3L409.7,146.3L414.4,146.6L413.6,148.3L414.2,151.5L410.4,150.3Z" fill="#f7fcfd"/>
<path d="M400.4,159.1L401.0,157.9L403.4,157.1L406.5,157.9L406.6,159.3Z" fill="#8c6bb1"/>
<path d="M349.1,207.3L350.4,207.0L355.4,208.6L357.2,209.1L358.0,210.7L358.2,214.6L359.3,217.0L355.3,218.6L354.0,220.5L350.8,223.1L346.3,223.9L342.5,226.0L342.5,228.7L332.2,228.7L337.3,225.7L339.1,224.4L340.5,221.5L340.2,218.6L343.2,213.9L345.2,213.1L347.0,211.9L348.4,209.4Z" fill="#bfd3e6"/>
<path d="M332.2,228.7L342.5,228.7L342.4,233.1L334.8,233.1L334.7,239.9L332.4,241.1L332.3,245.5L323.0,245.5L323.0,246.9L323.1,245.3L325.6,239.2L328.2,235.8L329.2,232.6L331.5,230.5Z" fill="url(#ndm)"/>
<path d="M323.0,246.9L323.0,245.5L332.3,245.5L332.4,241.1L334.7,239.9L334.8,233.1L342.4,233.1L342.4,229.7L351.0,235.8L347.2,235.8L349.1,258.2L349.8,260.9L340.5,260.9L337.3,261.1L335.5,260.6L333.8,262.7L330.9,259.3L328.6,258.0L324.0,259.3L325.2,254.0L324.8,250.3L324.2,247.1Z" fill="#e0ecf4"/>
<path d="M324.0,259.3L328.6,258.0L330.9,259.3L333.8,262.7L334.3,264.8L335.6,269.1L330.3,268.3L327.3,268.3L323.3,269.2L323.1,267.2L327.3,266.4L330.1,266.9L330.1,266.1L327.3,265.4L323.1,265.9L321.6,263.0Z" fill="#bfd3e6"/>
<path d="M323.1,267.2L323.1,265.9L327.3,265.4L330.1,266.1L330.1,266.9L327.3,266.4Z" fill="#bfd3e6"/>
<path d="M323.3,269.2L327.3,268.3L330.3,268.3L330.2,270.9L327.9,271.4L327.2,272.9L324.9,271.2Z" fill="#e0ecf4"/>
<path d="M327.2,272.9L327.9,271.4L330.2,270.9L330.3,268.3L335.6,269.1L337.7,270.1L340.5,269.1L342.7,272.7L343.4,274.9L344.3,279.6L342.7,281.7L340.1,282.3L339.9,279.6L338.1,279.4L337.4,277.8L336.0,275.4L333.0,275.7L331.1,278.0L330.2,276.7L328.1,274.1Z" fill="#bfd3e6"/>
<path d="M331.1,278.0L333.0,275.7L336.0,275.4L337.4,277.8L338.1,279.4L337.3,281.2L335.2,283.6L332.9,282.3L331.3,279.6Z" fill="#bfd3e6"/>
<path d="M335.2,283.6L337.3,281.2L338.1,279.4L339.9,279.6L340.1,282.3L342.7,281.7L342.2,284.6L344.8,287.8L344.5,290.3L341.0,288.6L336.9,285.2Z" fill="#e0ecf4"/>
<path d="M344.5,290.3L344.8,287.8L342.2,284.6L342.7,281.7L344.3,279.6L343.4,274.9L347.6,274.1L349.2,274.3L351.1,275.9L355.0,275.7L355.7,276.7L355.5,280.7L354.6,284.6L354.8,288.3L352.7,288.1L348.0,289.1Z" fill="#9ebcda"/>
<path d="M354.8,288.3L354.6,284.6L355.5,280.7L355.7,276.7L355.3,272.7L361.8,272.5L362.5,275.4L363.4,279.4L363.6,283.8L364.8,285.7L361.5,287.3L357.3,289.1Z" fill="#9ebcda"/>
<path d="M364.8,285.7L363.6,283.8L363.4,279.4L362.5,275.4L361.8,272.5L364.1,272.7L363.9,274.6L365.7,278.0L365.7,285.4Z" fill="#f7fcfd"/>
<path d="M365.7,285.4L365.7,278.0L363.9,274.6L364.1,272.7L365.2,271.7L367.6,270.4L368.5,269.1L370.3,270.9L370.6,274.1L368.5,278.0L368.3,284.9Z" fill="#bfd3e6"/>
<path d="M368.3,284.9L368.5,278.0L370.6,274.1L370.3,270.9L371.7,266.1L375.9,265.6L380.0,266.7L382.8,268.0L385.1,266.7L390.9,267.2L393.5,265.6L394.6,267.2L394.9,268.8L395.8,271.4L394.0,272.7L392.0,277.0L390.4,279.4L388.3,284.4L385.7,283.6L383.6,285.2L382.5,288.6L381.8,289.7L378.3,290.2L376.0,290.4L373.6,287.0L372.5,285.2L369.9,284.9Z" fill="#8c6bb1"/>
<path d="M333.8,262.7L335.5,260.6L337.3,261.1L340.5,260.9L349.8,260.9L349.1,258.2L347.2,235.8L351.0,235.8L364.6,246.1L364.7,247.1L369.3,249.5L369.6,251.6L371.8,251.2L371.7,258.2L370.1,261.1L365.0,261.4L362.5,262.3L360.4,261.9L357.4,264.3L355.1,265.6L352.0,266.9L351.8,268.3L349.9,270.6L349.2,274.3L347.6,274.1L343.4,274.9L342.7,272.7L340.5,269.1L337.7,270.1L335.6,269.1L334.3,264.8Z" fill="#9ebcda"/>
<path d="M349.2,274.3L349.9,270.6L351.8,268.3L352.0,266.9L355.1,265.6L357.4,264.3L360.4,261.9L362.5,262.3L362.9,264.8L364.3,266.4L366.9,268.3L367.6,270.4L365.2,271.7L364.1,272.7L361.8,272.5L355.3,272.7L355.7,276.7L355.0,275.7L351.1,275.9Z" fill="#9ebcda"/>
<path d="M362.5,262.3L365.0,261.4L370.1,261.1L371.7,258.2L371.8,251.2L375.2,250.4L379.2,246.7L389.2,239.7L394.4,242.1L396.2,241.1L397.5,246.3L397.8,249.2L397.7,257.2L393.2,263.8L393.2,265.9L393.5,265.6L390.9,267.2L385.1,266.7L382.8,268.0L380.0,266.7L375.9,265.6L371.7,266.1L370.3,270.9L368.5,269.1L367.6,270.4L366.9,268.3L364.3,266.4L362.9,264.8Z" fill="#9ebcda"/>
<path d="M393.2,265.9L393.2,263.8L397.7,257.2L397.8,249.2L397.5,246.3L396.2,241.1L417.0,250.3L417.4,260.3L414.8,260.6L414.0,264.3L413.4,268.3L415.1,273.0L412.4,274.1L409.2,277.8L406.2,278.0L405.2,280.7L402.9,280.9L400.6,281.5L398.1,282.0L397.3,279.4L394.5,275.7L398.0,275.4L397.0,272.7L396.5,269.6L395.8,268.3L394.6,267.2L393.5,265.6Z" fill="#9ebcda"/>
<path d="M381.8,289.7L382.5,288.6L383.6,285.2L385.7,283.6L388.3,284.4L390.4,279.4L392.0,277.0L394.0,272.7L395.8,271.4L394.9,268.8L394.6,267.2L395.8,268.3L396.5,269.6L397.0,272.7L398.0,275.4L394.5,275.7L397.3,279.4L398.1,282.0L395.8,286.0L396.0,288.6L397.0,291.8L399.1,293.6L399.8,296.0L399.5,297.3L395.8,296.0L393.0,296.0L388.3,296.0L384.8,295.7L384.6,292.6L384.1,291.2L382.7,289.9Z" fill="#9ebcda"/>
<path d="M384.8,295.7L388.3,296.0L388.4,299.2L384.4,299.2Z" fill="#e0ecf4"/>
<path d="M384.4,299.2L388.4,299.2L388.3,296.0L393.0,296.0L392.8,298.4L395.1,298.1L395.8,301.8L394.4,302.6L395.8,305.8L395.6,307.9L392.3,308.1L391.1,307.1L389.3,308.1L389.0,309.7L387.9,312.2L384.4,308.1L383.7,306.8L382.5,303.6L383.9,301.0Z" fill="#e0ecf4"/>
<path d="M387.9,312.2L389.0,309.7L389.3,308.1L391.1,307.1L392.3,308.1L395.6,307.9L395.8,305.8L394.4,302.6L395.8,301.8L395.1,298.1L392.8,298.4L393.0,296.0L395.8,296.0L399.5,297.3L399.8,296.0L400.7,292.6L402.8,292.3L405.4,292.6L404.2,295.7L403.5,301.0L400.5,305.8L399.3,309.2L399.1,312.1L397.7,313.2L395.5,314.7L393.2,314.5L392.3,313.9L391.8,313.4L390.0,315.0Z" fill="#bfd3e6"/>
<path d="M390.4,317.1L391.1,315.3L392.3,313.9L393.2,314.5L395.5,314.7L397.7,313.2L399.1,312.1L399.3,309.2L400.5,305.8L403.5,301.0L404.2,295.7L405.4,292.6L405.3,290.4L407.4,288.3L410.0,290.2L414.2,291.0L415.4,289.1L418.8,288.3L420.9,288.6L425.9,288.4L428.2,290.4L430.7,289.7L434.0,292.6L433.8,295.5L435.0,296.0L434.3,297.0L432.0,299.2L431.7,300.2L431.0,303.1L431.0,305.5L430.1,306.3L429.6,307.9L429.6,308.9L430.1,310.5L430.3,313.4L430.5,313.6L431.2,315.0L430.9,318.4L432.9,321.6L433.6,323.7L429.2,324.2L428.0,326.1L428.4,327.7L428.6,330.1L427.8,333.0L429.2,334.5L431.0,334.0L430.9,337.2L429.1,337.2L427.7,335.9L425.0,333.0L422.3,333.2L420.7,331.4L418.6,331.6L417.7,330.6L413.5,331.4L413.8,329.5L412.6,326.9L412.9,323.5L412.7,321.1L409.7,321.1L409.7,320.0L407.4,320.3L406.2,322.9L402.9,323.2L401.3,320.8L400.7,317.4L392.7,317.4L390.9,317.8Z" fill="#8c6bb1"/>
<path d="M390.9,317.8L392.7,317.4L400.7,317.4L401.3,320.8L402.9,323.2L406.2,322.9L407.4,320.3L409.7,320.0L409.7,321.1L412.7,321.1L412.9,323.5L412.6,326.9L413.8,329.5L413.5,331.4L417.7,330.6L417.6,336.1L412.9,336.1L412.7,344.6L415.8,348.3L410.3,349.2L404.3,347.8L394.2,347.8L389.0,347.4L389.2,345.4L390.2,341.9L390.9,337.5L393.0,335.1L394.0,330.1L392.9,325.0ZM390.0,315.0L391.8,313.4L392.3,313.9L391.1,315.3L390.4,317.1Z" fill="#8c96c6"/>
<path d="M415.8,348.3L420.1,348.8L421.5,349.1L424.1,349.1L428.4,345.1L432.1,343.0L431.8,340.9L438.8,338.8L437.6,337.7L438.4,335.1L439.2,332.4L439.0,330.3L438.4,326.6L434.1,324.5L433.6,323.7L429.2,324.2L428.0,326.1L428.4,327.7L428.6,330.1L427.8,333.0L429.2,334.5L431.0,334.0L430.9,337.2L429.1,337.2L427.7,335.9L425.0,333.0L422.3,333.2L420.7,331.4L418.6,331.6L417.7,330.6L417.6,336.1L412.9,336.1L412.7,344.6Z" fill="#9ebcda"/>
<path d="M420.1,348.8L421.5,349.1L424.1,349.1L428.4,345.1L432.1,343.0L434.2,344.1L437.8,345.9L437.9,348.0L437.6,350.7L437.0,353.3L437.6,354.4L436.1,358.1L433.4,361.0L429.1,360.4L426.0,358.8L425.4,355.9L422.1,353.6Z" fill="#9ebcda"/>
<path d="M420.1,348.8L422.1,353.6L425.4,355.9L426.0,358.8L429.1,360.4L426.5,361.8L423.5,364.1L422.9,366.0L420.8,367.0L419.8,369.7L417.9,369.9L414.2,368.6L411.8,371.3L409.0,372.8L407.4,367.3L407.7,359.9L409.9,359.9L410.3,350.1L415.6,349.3L418.3,349.3Z" fill="#bfd3e6"/>
<path d="M389.0,347.4L394.2,347.8L404.3,347.8L410.3,349.2L415.8,348.3L420.1,348.8L418.3,349.3L415.6,349.3L410.3,350.1L409.9,359.9L407.7,359.9L407.4,367.3L407.0,376.8L404.7,378.1L401.1,377.6L399.1,377.3L396.1,372.1L395.0,365.2L395.0,362.3L392.7,356.7L389.6,350.7Z" fill="#bfd3e6"/>
<path d="M399.1,377.3L401.1,377.6L404.7,378.1L407.0,376.8L407.4,367.3L409.0,372.8L411.8,371.3L414.2,368.6L417.9,369.9L419.8,369.7L420.8,367.0L422.9,366.0L423.5,364.1L426.5,361.8L429.1,360.4L433.4,361.0L434.5,366.0L434.5,370.2L433.1,369.7L431.7,371.3L431.8,373.1L434.0,373.9L434.5,372.6L436.3,372.7L434.9,377.1L431.4,380.8L428.9,384.5L425.0,388.2L423.8,389.0L418.7,391.6L413.9,391.9L410.5,392.1L406.0,393.7L402.8,392.4L402.5,389.0L401.9,388.2L402.8,385.0L400.7,381.8Z" fill="#8c6bb1"/>
<path d="M422.5,380.0L424.9,377.6L426.3,377.3L428.0,379.2L427.6,380.8L425.0,382.6L423.3,381.8Z" fill="#bfd3e6"/>
<path d="M433.1,369.7L434.5,370.2L434.5,372.6L434.0,373.9L431.8,373.1L431.7,371.3Z" fill="#bfd3e6"/>
<path d="M436.3,372.7L434.5,372.6L434.5,370.2L434.5,366.0L433.4,361.0L436.1,358.1L437.6,354.4L437.0,353.3L437.6,350.7L437.9,348.0L437.8,345.9L434.2,344.1L432.1,343.0L431.8,340.9L438.8,338.8L441.5,339.8L441.1,344.6L443.3,347.0L444.6,344.1L444.7,340.4L442.1,337.2L442.9,332.4L445.0,332.2L448.9,332.7L451.3,331.6L455.8,329.5L456.0,334.8L455.7,336.1L456.3,340.1L455.7,342.7L454.0,345.1L449.4,347.5L446.8,349.1L445.1,351.7L442.0,354.1L442.3,357.3L443.0,360.4L442.7,365.2L440.3,367.3L436.8,368.9L435.8,370.2Z" fill="#8c96c6"/>
<path d="M438.4,326.6L439.0,330.3L439.2,332.4L438.4,335.1L437.6,337.7L438.8,338.8L441.5,339.8L441.1,344.6L443.3,347.0L444.6,344.1L444.7,340.4L442.1,337.2L442.9,332.4L441.0,326.9Z" fill="#bfd3e6"/>
<path d="M438.4,326.6L441.0,326.9L442.9,332.4L445.0,332.2L448.9,332.7L451.3,331.6L455.8,329.5L454.5,322.9L453.5,319.8L452.3,317.6L453.3,314.2L449.6,309.7L441.3,304.4L433.1,304.4L433.8,308.1L433.1,309.5L433.8,310.5L431.9,313.4L430.5,313.6L431.2,315.0L430.9,318.4L432.9,321.6L433.6,323.7L434.1,324.5Z" fill="#8c96c6"/>
<path d="M429.6,308.9L430.1,310.5L430.3,313.4L430.5,313.6L431.9,313.4L433.8,310.5L433.1,309.5L433.8,308.1L431.7,308.1Z" fill="#bfd3e6"/>
<path d="M431.0,305.5L433.1,304.4L433.8,308.1L431.7,308.1L429.6,308.9L429.6,307.9L430.1,306.3Z" fill="#bfd3e6"/>
<path d="M434.0,292.6L436.6,292.3L438.9,291.5L441.2,290.7L442.2,292.6L443.6,297.0L442.5,298.9L441.3,301.3L441.3,304.4L433.1,304.4L431.0,305.5L431.0,303.1L431.7,300.2L432.0,299.2L434.3,297.0L435.0,296.0L433.8,295.5Z" fill="#8c96c6"/>
<path d="M441.2,290.7L445.6,289.7L445.9,290.0L448.0,290.2L450.8,292.3L454.1,292.8L457.1,290.7L459.6,291.4L457.6,294.4L457.6,304.2L459.0,306.3L455.7,308.9L454.3,312.6L453.3,314.2L449.6,309.7L441.3,304.4L441.3,301.3L442.5,298.9L443.6,297.0L442.2,292.6Z" fill="#9ebcda"/>
<path d="M459.0,306.3L457.6,304.2L457.6,294.4L459.6,291.4L462.0,290.4L466.6,288.9L473.6,280.7L471.2,280.7L464.2,278.0L461.9,275.7L461.5,273.0L462.3,271.4L464.8,274.3L466.5,274.3L471.0,272.5L475.6,272.0L479.7,270.2L480.9,270.6L480.6,274.3L478.3,280.7L476.1,286.0L473.8,289.9L469.3,296.0L467.6,296.5L463.5,300.5L461.1,302.7Z" fill="#8c96c6"/>
<path d="M462.3,271.4L461.5,273.0L459.0,272.7L458.9,270.9L460.2,268.8L461.8,268.3L462.6,270.4Z" fill="#bfd3e6"/>
<path d="M461.8,268.3L460.3,266.7L456.7,262.7L453.7,261.4L453.1,260.6L451.8,256.9L450.7,254.3L448.3,256.4L447.1,258.8L446.1,261.9L446.4,264.0L449.5,262.4L452.1,263.2L454.9,263.8L456.8,265.9L460.2,268.8Z" fill="#9ebcda"/>
<path d="M446.4,264.0L449.5,262.4L452.1,263.2L454.9,263.8L456.8,265.9L460.2,268.8L458.9,270.9L459.0,272.7L461.5,273.0L461.9,275.7L464.2,278.0L471.2,280.7L473.6,280.7L466.6,288.9L462.0,290.4L459.6,291.4L457.1,290.7L454.1,292.8L450.8,292.3L448.0,290.2L445.9,290.0L445.6,289.7L444.2,287.5L442.8,284.1L438.7,280.9L441.3,279.1L441.2,276.7L441.6,273.8L443.1,270.6L445.6,268.3Z" fill="#8c6bb1"/>
<path d="M425.9,288.4L428.2,290.4L430.7,289.7L434.0,292.6L436.6,292.3L438.9,291.5L441.2,290.7L445.6,289.7L444.2,287.5L442.8,284.1L438.7,280.9L441.3,279.1L441.2,276.7L440.7,274.9L439.0,273.3L438.9,269.6L437.8,270.1L436.4,270.1L436.9,272.7L434.0,275.9L429.4,276.4L427.0,277.0L423.8,276.7L420.0,274.6L417.8,278.8L418.3,279.9L420.6,282.0L423.4,284.6Z" fill="#9ebcda"/>
<path d="M419.1,243.7L446.2,243.7L447.1,246.3L447.3,250.0L447.9,252.4L450.7,254.3L448.3,256.4L447.1,258.8L446.1,261.9L446.4,264.0L445.6,268.3L443.1,270.6L441.6,273.8L441.2,276.7L440.7,274.9L439.0,273.3L438.9,269.6L437.8,270.1L436.4,270.1L436.9,272.7L434.0,275.9L429.4,276.4L427.0,277.0L423.8,276.7L420.0,274.6L417.8,278.8L416.6,278.8L415.1,273.0L413.4,268.3L414.0,264.3L414.8,260.6L417.4,260.3L417.0,250.3L417.0,249.0L419.3,249.0Z" fill="#e0ecf4"/>
<path d="M398.1,282.0L400.6,281.5L402.9,280.9L405.2,280.7L406.2,278.0L409.2,277.8L412.4,274.1L415.1,273.0L416.6,278.8L417.8,278.8L418.3,279.9L420.6,282.0L423.4,284.6L425.9,288.4L420.9,288.6L418.8,288.3L415.4,289.1L414.2,291.0L410.0,290.2L407.4,288.3L405.3,290.4L405.4,292.6L402.8,292.3L400.7,292.6L399.8,296.0L399.1,293.6L397.0,291.8L396.0,288.6L395.8,286.0Z" fill="#bfd3e6"/>
<path d="M418.0,218.2L419.1,243.7L446.2,243.7L442.7,238.4L438.9,231.8L438.3,230.0L434.9,222.7L436.7,226.5L439.2,228.5L440.3,223.9L438.3,219.1L434.0,219.1L431.1,218.6L428.7,219.4L422.6,219.0Z" fill="#9ebcda"/>
<path d="M418.0,218.2L419.1,243.7L419.3,249.0L417.0,249.0L417.0,250.3L396.2,241.1L394.4,242.1L389.2,239.7L388.4,237.6L385.2,236.8L383.3,232.6L384.4,231.8L384.3,227.1L383.4,222.0L385.0,220.2L384.9,218.1L387.5,216.0L387.6,214.2L391.3,214.9L395.5,216.2L397.2,219.1L399.0,219.4L402.2,221.2L405.0,221.8L406.6,219.9L406.7,217.0L410.1,214.9L413.3,215.7L415.4,217.3Z" fill="#f7fcfd"/>
<path d="M387.6,214.2L387.5,216.0L384.9,218.1L385.0,220.2L383.4,222.0L382.2,217.6L380.4,216.0L378.6,212.5L380.1,210.2L380.1,205.4L380.7,204.2L383.3,203.3L386.1,204.0L384.5,204.6L385.2,207.3L386.4,208.8L384.3,211.2L384.3,212.3L386.5,213.3Z" fill="#f7fcfd"/>
<path d="M357.2,209.1L360.7,207.5L364.2,205.4L368.5,204.6L373.1,204.8L377.3,204.1L379.0,204.4L380.7,204.2L380.1,205.4L380.1,210.2L378.6,212.5L380.4,216.0L382.2,217.6L383.4,222.0L384.3,227.1L384.4,231.8L383.3,232.6L385.2,236.8L388.4,237.6L389.2,239.7L379.2,246.7L375.2,250.4L371.8,251.2L369.6,251.6L369.3,249.5L364.7,247.1L364.6,246.1L351.0,235.8L342.4,229.7L342.5,228.7L342.5,226.0L346.3,223.9L350.8,223.1L354.0,220.5L355.3,218.6L359.3,217.0L358.2,214.6L358.0,210.7Z" fill="#e0ecf4"/>
<path d="M476.2,333.5L478.5,343.8L476.7,345.4L475.6,349.3L472.9,357.3L468.7,368.0L464.2,369.4L461.3,363.6L460.8,359.9L463.5,354.6L463.0,351.5L463.3,346.7L465.8,344.1L468.8,343.3L472.7,340.4L473.0,337.5Z" fill="#8c96c6"/>
<path d="M413.9,122.6L417.7,123.5L422.9,124.0L432.7,127.8L433.5,130.1L428.6,131.2L422.1,129.9L418.3,128.7L423.5,133.5L424.1,134.9L428.4,136.3L430.0,135.8L426.8,133.7L433.2,134.4L432.5,132.3L435.3,130.3L439.0,130.8L439.5,131.2L438.1,128.5L436.2,125.5L440.9,126.7L441.9,129.2L444.7,127.6L452.7,126.2L454.4,126.2L462.7,125.8L465.4,124.4L463.7,122.6L470.3,124.0L475.9,124.9L479.2,126.2L475.0,123.3L474.0,122.1L472.2,118.9L472.5,115.7L478.1,115.7L482.1,118.9L484.9,124.4L487.5,130.1L488.9,126.7L487.7,122.1L483.0,116.8L489.0,117.2L492.7,117.9L497.7,120.0L500.3,121.1L494.4,117.9L491.0,114.7L498.9,113.6L498.6,111.5L505.8,109.5L512.8,108.9L518.5,106.2L531.8,108.2L538.9,110.5L535.1,114.7L534.1,115.3L540.8,114.0L545.8,114.2L553.9,115.7L560.2,114.2L565.5,114.7L572.2,116.8L575.5,120.0L579.1,118.9L587.3,118.9L589.3,116.8L599.7,117.2L608.7,118.9L615.6,120.2L626.2,120.7L633.5,123.3L643.3,123.1L647.8,122.1L650.3,124.4L652.0,124.4L657.7,122.6L667.2,124.4L681.0,133.5L679.1,134.7L677.6,134.2L685.8,138.2L688.3,139.4L682.3,141.1L680.0,143.4L678.7,145.3L671.8,145.8L666.9,145.6L671.6,148.0L671.2,150.3L674.3,154.7L676.8,154.7L678.2,158.6L678.1,162.2L676.1,162.9L677.1,168.0L669.9,162.7L665.1,157.6L660.6,152.7L661.7,150.3L661.5,146.6L662.4,144.2L661.6,141.3L660.1,139.4L654.9,141.1L649.7,141.8L651.2,146.6L647.8,147.8L644.2,146.6L635.5,146.8L630.1,147.1L628.5,150.3L627.3,153.9L626.0,158.4L632.0,160.2L635.5,159.6L641.2,162.2L643.2,166.5L646.5,170.3L648.7,174.1L648.8,179.3L647.2,184.5L644.0,188.9L640.7,188.1L639.1,189.9L639.0,187.3L636.6,183.7L637.3,182.4L640.1,182.9L638.1,177.2L637.8,174.4L634.5,176.2L631.2,176.2L628.5,173.1L624.2,171.8L620.0,169.8L610.7,162.7L605.5,161.3L600.7,161.9L602.0,166.0L602.8,169.5L601.3,171.5L598.6,170.8L592.9,169.5L591.1,171.5L587.5,172.6L582.9,172.1L577.6,169.5L572.3,169.8L568.2,168.7L566.9,167.0L559.1,165.0L558.5,167.7L560.3,169.0L554.4,170.3L548.2,168.2L543.3,170.5L540.7,172.3L539.8,172.6L535.6,171.3L528.8,167.7L522.9,168.0L514.9,161.7L512.0,159.6L506.3,160.2L501.2,159.6L499.0,156.9L494.5,157.6L487.4,159.4L481.9,160.4L483.6,165.2L485.7,168.0L481.9,168.7L478.5,167.7L472.8,168.5L468.2,166.7L463.5,166.0L460.6,168.2L460.2,170.3L457.2,170.5L457.3,174.1L458.4,175.4L464.0,179.8L461.7,180.6L459.6,183.1L461.6,184.5L462.4,188.4L465.5,191.5L464.1,193.1L461.0,191.5L456.3,189.2L451.8,187.8L446.4,187.3L444.0,185.8L440.5,183.9L438.6,182.6L440.9,182.4L442.0,180.6L443.0,177.5L440.8,177.7L443.6,175.4L443.4,171.3L439.0,170.5L433.6,169.0L429.2,164.4L425.4,165.0L424.3,162.4L426.5,161.7L422.2,157.9L421.9,156.2L416.4,154.9L415.5,153.2L414.2,151.5L413.6,148.3L414.4,146.6L416.0,145.3L418.3,145.6L414.8,144.2L413.5,144.2L415.3,142.3L419.1,138.7L415.8,136.3L414.9,132.3L412.7,129.4L411.7,126.7L410.4,124.6L411.1,124.2Z" fill="#8c6bb1"/>
<path d="M56.8,124.4L59.5,126.0L62.0,128.9L64.8,131.0L55.6,134.7L51.2,134.0L48.2,132.3L43.0,133.5Z" fill="#8c6bb1"/>
<path d="M66.0,118.9L69.3,119.4L67.0,120.2L63.7,120.2Z" fill="#8c6bb1"/>
<path d="M657.5,120.0L658.0,118.9L660.3,120.2Z" fill="#8c6bb1"/>
<path d="M447.2,120.0L448.0,116.8L451.1,113.6L449.2,111.5L454.5,109.1L462.5,107.6L467.9,108.5L460.2,110.5L455.9,113.6L454.5,116.8L457.5,120.7L453.4,120.7L450.7,120.2Z" fill="#8c6bb1"/>
<path d="M493.3,101.3L497.1,99.8L505.0,101.4L504.0,102.3L498.5,101.9ZM500.9,102.7L506.9,101.7L514.8,103.3L519.3,105.0L511.8,105.6L504.7,104.1ZM512.0,105.8L517.8,105.0L523.6,106.6L518.3,107.2Z" fill="#8c6bb1"/>
<path d="M576.2,110.9L583.1,109.5L596.5,110.9L591.9,111.9L582.8,112.1ZM586.6,114.9L590.8,114.5L590.4,115.3Z" fill="#8c6bb1"/>
<path d="M429.8,101.3L433.6,100.5L440.6,100.3L444.1,101.1L438.7,101.6L433.0,101.7Z" fill="#8c6bb1"/>
<path d="M444.2,124.4L445.5,123.3L446.9,124.6Z" fill="#8c6bb1"/>
<path d="M640.1,159.4L643.9,161.4L647.8,165.2L652.0,170.3L656.5,172.8L653.1,172.3L655.6,176.7L658.6,178.5L659.9,180.6L657.0,180.6L654.2,176.7L651.8,172.8L647.3,167.7L644.6,165.2L641.9,161.4Z" fill="#8c6bb1"/>
<path d="M417.4,191.8L421.5,191.0L423.9,192.8L429.2,192.8L433.2,191.0L436.8,191.0L439.9,192.8L444.3,193.6L448.6,193.6L450.5,192.3L453.2,192.0L455.0,193.3L455.9,195.9L458.5,197.0L456.9,197.8L458.4,200.7L458.2,201.7L459.6,203.6L454.4,203.8L451.3,203.8L447.1,204.9L442.8,204.9L442.3,206.2L440.6,207.0L440.5,204.4L437.5,204.6L434.2,206.5L431.9,205.4L428.8,204.6L426.5,206.2L423.8,204.9L421.5,204.1L419.0,200.7L419.8,198.0L418.2,197.5L418.3,196.2L417.7,194.1L418.6,192.8Z" fill="#bfd3e6"/>
<path d="M433.0,209.4L434.5,208.4L437.9,207.5L436.8,209.4L434.7,210.4Z" fill="#f7fcfd"/>
<path d="M446.4,187.3L451.8,187.8L456.3,189.2L461.0,191.5L461.2,193.3L458.1,192.8L455.0,193.3L453.2,192.0L450.5,192.3L450.4,190.5L449.6,188.9Z" fill="#bfd3e6"/>
<path d="M455.0,193.3L458.1,192.8L459.6,194.1L461.1,197.3L462.5,199.1L461.4,199.1L459.8,197.5L458.5,197.0L455.9,195.9Z" fill="#bfd3e6"/>
<path d="M458.1,192.8L461.2,193.3L461.0,191.5L464.1,193.1L465.5,191.5L467.2,193.6L469.9,195.2L468.5,197.8L467.9,200.4L465.8,199.4L466.1,197.8L462.5,199.1L461.1,197.3L459.6,194.1ZM458.5,197.0L459.8,197.5L461.4,199.1L459.2,198.8L456.9,197.8Z" fill="#9ebcda"/>
<path d="M440.6,207.0L442.3,206.2L442.8,204.9L447.1,204.9L451.3,203.8L454.4,203.8L452.3,205.7L452.8,207.8L452.4,210.9L447.8,213.6L443.7,216.5L441.8,215.4L441.2,213.9L442.7,211.5L442.2,210.4L441.2,210.3Z" fill="#f7fcfd"/>
<path d="M439.7,214.4L441.2,213.9L442.7,211.5L442.2,210.4L441.2,210.3Z" fill="#f7fcfd"/>
<path d="M438.3,219.1L440.3,223.9L441.0,219.9L440.9,216.2L441.2,213.9L439.7,214.4L439.2,217.3Z" fill="#f7fcfd"/>
<path d="M440.4,224.2L442.8,224.7L446.0,222.6L444.4,218.6L448.7,217.3L449.1,216.5L447.8,213.6L443.7,216.5L440.9,216.2L441.0,219.9Z" fill="#f7fcfd"/>
<path d="M454.4,203.8L459.6,203.6L462.4,207.3L463.6,209.1L462.2,212.0L463.9,214.6L468.4,217.8L468.4,219.9L470.6,222.6L469.3,222.6L468.8,222.3L466.4,224.9L462.3,224.7L455.7,219.9L451.9,217.6L449.1,216.5L447.8,213.6L452.4,210.9L452.8,207.8L452.3,205.7Z" fill="#bfd3e6"/>
<path d="M466.4,224.9L468.8,222.3L470.8,226.4L469.0,226.5Z" fill="#f7fcfd"/>
<path d="M456.9,197.8L459.2,198.8L461.4,199.1L462.5,199.1L466.1,197.8L465.8,199.4L467.9,200.4L470.8,203.0L474.4,204.9L479.8,204.4L479.3,203.2L483.5,201.2L486.2,200.9L491.0,202.8L495.6,205.2L496.2,207.8L495.6,211.2L497.7,218.6L499.9,219.9L498.5,223.0L503.3,227.1L504.8,230.0L504.9,231.5L502.0,232.3L501.8,235.2L495.8,234.7L491.8,233.7L490.4,230.2L485.7,231.8L481.8,231.3L478.0,228.4L476.1,225.5L473.9,222.0L471.4,221.8L470.6,222.6L468.4,219.9L468.4,217.8L463.9,214.6L462.2,212.0L463.6,209.1L462.4,207.3L459.6,203.6L458.2,201.7L458.4,200.7Z" fill="#e0ecf4"/>
<path d="M440.5,224.3L442.8,224.7L446.0,222.6L444.4,218.6L448.7,217.3L451.9,217.6L455.7,219.9L462.3,224.7L466.4,224.9L469.0,226.5L470.8,226.4L472.0,228.6L475.0,231.3L475.8,234.5L477.4,236.4L478.3,236.8L479.3,237.9L481.9,241.3L487.6,242.1L489.2,243.7L488.0,249.0L481.3,251.6L474.5,252.7L469.0,256.4L464.4,255.8L461.6,255.6L461.5,257.7L460.6,258.5L458.6,255.1L456.0,250.3L451.6,245.0L449.6,239.7L446.4,235.8L444.6,233.1L441.3,227.9L439.9,227.6Z" fill="#bfd3e6"/>
<path d="M460.6,258.5L461.5,257.7L461.6,255.6L464.4,255.8L469.0,256.4L474.5,252.7L481.3,251.6L484.3,257.8L482.5,260.6L475.3,264.3L473.0,264.8L466.2,267.7L462.7,268.3L461.9,266.1L460.9,262.2Z" fill="#bfd3e6"/>
<path d="M484.3,257.8L481.3,251.6L488.0,249.0L489.2,243.7L487.8,241.8L489.4,238.4L488.7,236.0L490.1,236.0L490.6,237.1L495.4,239.5L498.4,242.4L495.9,247.7L494.4,251.6L492.9,252.1L489.6,254.8L486.3,256.9ZM489.0,233.0L489.6,232.3L489.8,234.2Z" fill="#f7fcfd"/>
<path d="M479.3,237.9L481.9,241.3L487.6,242.1L487.8,241.8L489.4,238.4L488.7,236.0L490.1,236.0L489.8,234.2L489.0,233.0L485.6,237.1L482.5,237.9Z" fill="#f7fcfd"/>
<path d="M477.4,236.4L478.3,236.8L479.0,234.5L477.9,232.7L477.2,234.5Z" fill="#f7fcfd"/>
<path d="M464.0,179.8L458.4,175.4L457.3,174.1L457.2,170.5L460.2,170.3L460.6,168.2L463.5,166.0L468.2,166.7L472.8,168.5L478.5,167.7L481.9,168.7L485.7,168.0L483.6,165.2L481.9,160.4L487.4,159.4L494.5,157.6L499.0,156.9L501.2,159.6L506.3,160.2L512.0,159.6L514.9,161.7L522.9,168.0L528.8,167.7L535.6,171.3L539.8,172.6L537.3,174.4L538.5,178.0L533.1,177.5L533.5,181.9L534.3,182.6L530.3,183.7L532.5,187.8L531.8,188.4L532.3,190.5L529.2,188.9L522.8,188.6L520.7,188.6L517.4,188.4L517.9,189.7L512.5,189.4L512.7,190.2L511.9,191.0L509.3,192.8L507.6,193.6L504.2,193.1L502.3,191.0L501.8,188.6L498.7,186.5L492.7,187.1L490.0,184.7L484.1,181.6L479.1,183.1L481.5,192.8L480.5,192.8L477.1,190.2L473.6,191.6L473.1,188.9L469.9,186.8L467.5,184.7L468.6,183.1L472.6,182.4L471.6,178.5L467.7,178.0Z" fill="#9ebcda"/>
<path d="M481.5,192.8L479.1,183.1L484.1,181.6L490.0,184.7L492.7,187.1L498.7,186.5L501.8,188.6L502.3,191.0L504.2,193.1L507.6,193.6L509.3,192.8L511.9,191.0L512.7,190.2L511.7,192.3L514.6,192.8L518.5,194.1L517.1,195.2L514.5,195.7L513.1,194.6L510.3,194.1L509.3,195.7L508.1,197.5L510.3,200.9L510.2,204.1L506.7,203.2L506.5,201.5L500.3,199.1L495.9,196.2L492.3,193.1L489.9,191.5L486.1,189.2L484.8,190.5L483.7,192.8Z" fill="#8c96c6"/>
<path d="M473.6,191.6L477.1,190.2L480.5,192.8L481.5,192.8L483.7,192.8L484.8,190.5L486.1,189.2L489.9,191.5L492.3,193.1L495.9,196.2L500.3,199.1L506.5,201.5L506.7,203.2L503.0,205.9L500.2,207.0L498.9,208.8L496.2,207.8L495.6,205.2L491.0,202.8L486.2,200.9L483.5,201.2L479.3,203.2L478.5,199.1L476.3,197.8L477.2,196.2L476.0,196.2L474.8,193.1Z" fill="#bfd3e6"/>
<path d="M512.7,190.2L512.5,189.4L517.9,189.7L517.4,188.4L520.7,188.6L522.8,188.6L529.2,188.9L532.3,190.5L529.6,192.8L526.2,193.6L522.8,194.9L521.0,197.3L520.6,197.6L517.2,197.8L513.9,197.3L511.7,197.3L510.8,195.7L513.3,195.4L514.5,195.7L517.1,195.2L518.5,194.1L514.6,192.8L511.7,192.3Z" fill="#9ebcda"/>
<path d="M510.2,204.1L510.3,200.9L508.1,197.5L509.3,195.7L510.3,194.1L513.1,194.6L514.5,195.7L513.3,195.4L510.8,195.7L511.7,197.3L513.9,197.3L517.2,197.8L520.6,197.6L521.0,197.3L521.7,199.9L525.1,202.8L525.1,203.4L521.4,202.9L518.3,204.9L516.7,201.5L515.3,200.4L514.6,202.5L513.0,203.8Z" fill="#bfd3e6"/>
<path d="M498.5,223.0L499.9,219.9L497.7,218.6L495.6,211.2L496.2,207.8L498.9,208.8L500.2,207.0L503.0,205.9L506.7,203.2L510.2,204.1L513.0,203.8L514.6,202.5L515.3,200.4L516.7,201.5L518.3,204.9L521.4,202.9L525.1,203.4L524.6,204.1L521.2,204.4L518.5,205.7L518.6,209.4L518.9,211.7L517.0,214.1L516.1,217.6L510.2,220.2L510.5,222.8L505.6,224.2L502.2,224.2Z" fill="#9ebcda"/>
<path d="M501.8,235.2L502.0,232.3L504.9,231.5L504.8,230.0L503.3,227.1L498.5,223.0L502.2,224.2L505.6,224.2L510.5,222.8L510.2,220.2L516.1,217.6L517.0,214.1L518.9,211.7L518.6,209.4L518.5,205.7L521.2,204.4L524.6,204.1L527.4,204.9L532.7,208.0L531.3,209.4L528.2,210.2L524.9,210.2L524.7,211.2L526.4,214.6L529.2,216.5L528.2,218.6L528.3,219.9L527.5,222.6L525.8,225.5L523.9,228.1L520.8,228.1L519.1,230.0L520.7,231.8L520.9,234.2L523.4,237.4L518.4,237.6L517.2,239.2L515.3,238.4L514.1,236.3L512.8,234.7L508.3,235.2Z" fill="#88419d"/>
<path d="M517.2,239.2L518.4,237.6L523.4,237.4L520.9,234.2L520.7,231.8L519.1,230.0L520.8,228.1L523.9,228.1L525.8,225.5L527.5,222.6L528.3,219.9L528.2,218.6L529.2,216.5L526.4,214.6L524.7,211.2L524.9,210.2L528.2,210.2L531.3,209.4L532.7,208.0L533.5,209.4L536.2,211.2L536.6,213.9L538.2,215.7L537.0,217.3L537.7,219.4L540.1,220.2L543.3,222.0L542.0,225.7L545.5,227.9L549.9,229.4L554.0,231.0L556.4,231.5L561.2,232.1L560.4,228.1L562.0,227.9L562.6,229.7L563.1,231.0L566.4,231.0L569.8,230.9L569.4,229.2L568.4,228.4L569.3,228.4L572.1,226.0L575.2,224.7L578.0,224.2L580.9,227.1L580.6,228.6L579.0,229.7L577.2,231.5L576.6,235.2L576.1,238.7L574.2,238.4L574.8,241.1L573.4,243.7L572.1,241.1L571.4,239.5L570.2,240.8L569.4,238.4L571.6,237.9L571.7,235.8L565.7,235.0L565.3,233.1L562.1,232.1L561.6,233.7L562.6,235.2L562.1,236.8L563.4,237.6L564.3,240.5L565.1,242.9L565.5,244.2L563.5,244.8L561.1,247.1L560.2,249.0L558.0,250.0L556.6,251.6L553.6,255.1L551.6,258.0L549.3,259.8L547.1,261.4L547.2,264.8L547.8,267.2L547.0,270.6L547.4,274.6L545.6,277.5L543.7,278.3L542.3,280.5L539.8,278.0L539.0,275.4L536.5,270.6L535.1,267.5L532.9,262.2L532.3,260.9L530.8,256.9L529.1,251.6L528.3,246.9L528.0,246.1L527.4,243.2L526.8,245.8L524.5,247.0L522.1,246.3L519.4,242.9L520.6,241.6L518.5,240.3Z" fill="#6e016b"/>
<path d="M542.0,225.7L543.3,222.0L546.1,222.6L551.1,225.5L555.7,228.1L560.4,228.1L561.2,232.1L556.4,231.5L554.0,231.0L549.9,229.4L545.5,227.9Z" fill="#8c96c6"/>
<path d="M562.6,229.7L563.1,231.0L566.4,231.0L569.8,230.9L569.4,229.2L568.4,228.4L565.7,227.6L563.5,227.6L562.0,227.9Z" fill="#f7fcfd"/>
<path d="M562.1,232.1L565.3,233.1L565.7,235.0L571.7,235.8L571.6,237.9L569.4,238.4L570.2,240.8L571.4,239.5L572.1,241.1L573.4,243.7L573.7,245.5L573.2,247.1L572.2,245.0L571.4,242.9L568.6,242.4L568.2,244.0L565.5,244.2L565.1,242.9L564.3,240.5L563.4,237.6L562.1,236.8L562.6,235.2L561.6,233.7Z" fill="#8c6bb1"/>
<path d="M547.8,275.9L550.7,279.4L552.5,282.5L551.9,284.9L549.7,286.1L548.0,284.6L547.3,280.4Z" fill="#f7fcfd"/>
<path d="M573.2,247.1L573.7,245.5L573.4,243.7L574.8,241.1L574.2,238.4L576.1,238.7L576.6,235.2L577.2,231.5L579.0,229.7L580.6,228.6L580.9,227.1L581.0,226.5L584.5,228.9L585.5,233.4L583.6,236.3L584.2,238.4L586.9,238.2L587.3,240.5L588.8,241.3L588.4,243.2L590.7,245.0L592.9,244.2L593.4,245.8L591.2,248.1L589.9,248.2L587.1,249.8L586.6,252.9L585.7,252.9L588.9,257.4L589.2,261.4L591.3,266.9L592.8,270.6L591.3,274.1L591.0,275.4L590.4,271.4L590.4,268.8L589.1,265.4L587.7,262.2L586.9,258.2L585.1,256.9L583.6,258.0L581.8,260.1L579.2,259.5L579.4,255.6L578.5,252.1L576.6,249.8L575.1,248.7Z" fill="#8c6bb1"/>
<path d="M591.0,275.4L591.3,274.1L592.8,270.6L591.3,266.9L589.2,261.4L588.9,257.4L585.7,252.9L586.6,252.9L587.1,249.8L589.9,248.2L591.2,248.1L592.0,248.5L592.5,250.3L594.3,250.3L594.6,255.6L596.6,253.7L599.1,253.5L600.7,253.5L602.9,255.6L603.5,258.2L605.6,260.3L605.2,264.0L600.1,264.0L599.1,265.9L599.2,268.8L600.5,270.9L599.0,269.6L597.5,268.3L595.6,268.3L594.7,266.1L593.4,266.4L593.5,268.0L593.3,270.6L592.2,274.1L592.7,277.5L594.4,279.4L596.0,282.8L598.2,283.6L599.7,285.4L599.0,286.5L597.4,286.7L595.0,284.8L592.3,282.5L590.6,280.9L590.4,278.0Z" fill="#8c96c6"/>
<path d="M591.2,248.1L593.4,245.8L594.7,245.8L593.9,242.4L594.9,242.6L597.1,244.8L597.6,246.6L600.9,247.1L600.7,249.8L603.6,252.7L607.2,256.9L609.9,259.5L610.4,263.0L607.0,263.8L605.2,264.0L605.6,260.3L603.5,258.2L602.9,255.6L600.7,253.5L599.1,253.5L596.6,253.7L594.6,255.6L594.3,250.3L592.5,250.3L592.0,248.5Z" fill="#f7fcfd"/>
<path d="M600.5,270.9L599.2,268.8L599.1,265.9L600.1,264.0L605.2,264.0L607.0,263.8L610.4,263.0L611.0,269.3L608.6,270.9L607.9,272.7L605.8,273.0L604.5,274.3L602.2,273.8L601.1,272.2Z" fill="#bfd3e6"/>
<path d="M604.5,274.3L605.8,273.0L607.9,272.7L608.6,270.9L611.0,269.3L610.4,263.0L609.9,259.5L607.2,256.9L603.6,252.7L600.7,249.8L600.9,247.1L597.6,246.6L597.1,244.8L594.9,242.6L598.9,242.1L601.8,240.3L605.2,241.6L605.4,243.7L608.8,245.0L606.4,246.9L604.9,250.6L605.0,252.9L606.9,255.1L610.2,258.8L611.7,259.3L614.1,263.5L615.3,268.0L615.0,270.1L614.5,272.0L611.1,274.3L609.8,276.4L606.7,278.6L605.6,279.1L605.6,275.9Z" fill="#8c6bb1"/>
<path d="M595.0,284.8L597.4,286.7L599.0,286.5L599.7,285.4L602.9,289.1L603.0,292.6L605.0,298.1L603.4,298.4L600.3,296.0L598.1,293.9L596.7,291.2L595.6,287.5ZM617.6,296.5L621.7,294.4L625.4,293.3L627.6,290.2L628.1,289.7L629.1,291.2L630.4,290.4L630.6,288.6L631.2,287.3L632.3,286.0L633.8,283.3L635.9,284.6L636.8,286.5L639.7,288.1L637.4,290.2L636.0,290.7L632.3,290.4L631.4,292.6L630.1,294.7L629.2,297.8L625.5,297.8L623.7,298.4L620.0,299.4L617.6,299.2Z" fill="#bfd3e6"/>
<path d="M628.1,289.7L630.6,288.6L630.4,290.4L629.1,291.2Z" fill="#f7fcfd"/>
<path d="M583.9,287.0L589.1,288.1L590.8,290.7L594.6,293.9L597.0,296.3L599.9,297.8L602.2,299.7L604.2,301.8L603.4,304.4L605.7,306.6L609.1,309.7L608.8,313.7L608.4,317.1L605.6,317.1L604.1,314.7L600.4,312.1L597.5,308.1L595.9,304.2L592.9,299.7L592.2,297.3L589.5,295.2L586.9,291.8ZM606.8,319.8L608.8,317.4L611.1,317.5L614.5,319.2L619.1,320.0L620.4,318.7L624.2,320.0L628.3,322.1L627.9,324.5L624.7,323.7L620.1,323.7L615.5,322.3L612.5,322.1L609.5,321.3ZM617.6,296.5L617.6,299.2L620.0,299.4L623.7,298.4L625.5,297.8L629.2,297.8L630.1,294.7L631.4,292.6L632.3,290.4L636.0,290.7L636.6,293.9L637.1,296.5L639.5,299.2L636.8,299.7L636.1,303.9L633.7,306.6L633.6,309.7L632.3,312.1L629.1,312.6L628.9,310.8L625.4,310.3L622.3,311.0L618.9,309.5L618.8,305.8L616.3,303.1L616.7,300.5L616.0,299.2ZM643.7,298.4L646.5,299.2L653.0,297.8L653.5,297.6L652.0,300.7L645.4,300.5L642.7,301.8L642.1,303.9L644.9,304.2L649.6,304.2L646.5,306.3L645.5,307.1L647.5,311.0L649.1,313.7L647.3,316.3L645.1,314.2L644.1,309.7L642.7,309.7L642.4,316.3L640.1,316.3L640.5,311.0L638.9,309.2L640.4,305.8L641.5,302.3L641.7,300.0ZM628.2,323.5L631.0,323.5L630.4,325.0L628.4,324.5ZM631.7,323.7L633.3,323.7L632.7,325.3L631.6,325.0ZM633.5,324.2L636.3,323.5L638.6,324.0L638.6,325.0L633.9,325.6ZM640.5,324.0L643.3,324.0L648.0,323.5L647.4,324.8L642.0,325.0ZM638.4,326.9L641.9,327.2L641.1,328.7ZM648.7,329.0L650.3,326.6L652.4,326.1L652.4,327.2L650.8,328.7ZM659.3,297.0L660.4,296.0L662.1,297.8L660.6,300.5L661.5,302.6L660.1,303.9L659.6,299.7ZM660.4,309.7L665.0,309.5L666.9,310.8L663.8,311.0L660.3,310.8ZM655.7,310.3L658.0,310.3L658.0,311.8L656.1,311.6ZM667.6,303.9L671.1,302.9L674.8,303.9L675.1,308.4L676.7,310.5L680.3,307.6L683.8,306.0L690.7,308.7L689.6,325.8L686.4,323.2L684.0,323.7L682.1,324.0L684.3,320.3L683.4,316.3L678.9,313.9L675.4,312.4L671.9,312.4L671.6,309.7L669.7,309.2L673.2,308.1L670.5,307.6L668.0,305.8ZM674.7,317.6L675.8,318.4L674.5,319.8ZM666.7,321.6L668.4,320.8L667.8,322.9ZM651.1,307.1L654.6,306.6L655.8,306.6L652.3,306.3ZM609.1,308.4L610.8,308.4L610.3,309.7Z" fill="#8c96c6"/>
<path d="M652.4,326.1L657.9,324.0L656.0,325.6L652.4,327.2Z" fill="#e0ecf4"/>
<path d="M690.7,308.7L695.3,310.8L698.7,312.1L701.6,315.5L706.0,318.7L704.1,319.8L706.7,324.5L709.3,327.2L712.4,328.7L710.1,329.8L705.7,328.5L703.7,326.6L701.5,323.2L698.1,321.9L695.6,323.7L694.2,326.4L689.6,325.8ZM707.4,316.6L711.3,316.3L715.0,312.9L716.7,312.9L716.1,315.0L712.4,318.2L708.9,318.2ZM713.6,308.7L718.1,312.9L718.5,314.2L716.9,311.8ZM722.3,316.3L724.8,319.8L723.4,319.2Z" fill="#9ebcda"/>
<path d="M638.8,252.9L642.7,252.9L643.6,256.9L642.3,260.1L643.0,263.5L645.2,264.3L648.8,265.4L649.4,268.5L647.4,267.5L645.4,266.4L643.7,265.1L641.6,265.6L640.7,263.5L639.2,262.2L639.4,259.3L638.8,255.6ZM646.1,283.6L649.2,281.5L648.6,279.4L651.9,279.4L653.5,275.9L655.6,279.4L656.5,282.5L655.8,285.2L654.0,287.0L653.5,286.2L654.3,283.8L651.1,285.4L650.9,282.5L649.3,282.3ZM649.9,268.8L652.2,268.8L653.6,272.5L651.9,272.2L652.3,275.4L651.5,274.9L650.4,271.7ZM644.7,270.4L647.4,271.4L647.9,274.1L647.8,277.5L646.5,275.9L645.2,274.1ZM648.3,273.0L649.6,272.2L649.1,276.7ZM634.4,279.6L639.1,272.0L639.0,274.6L636.2,278.0ZM640.6,266.4L643.1,266.7L643.2,269.3L641.8,268.8Z" fill="#8c6bb1"/>
<path d="M636.5,235.2L638.9,235.8L638.6,239.7L637.8,244.0L635.7,241.1L636.5,237.1Z" fill="#bfd3e6"/>
<path d="M650.9,212.0L652.9,208.3L653.7,207.8L659.1,207.5L660.2,204.6L660.6,202.8L661.3,204.6L663.3,203.0L663.6,201.5L663.5,197.5L663.0,196.2L662.0,194.6L661.7,193.1L663.7,192.5L665.4,194.9L668.0,197.5L667.7,200.9L669.3,204.1L670.1,206.7L670.9,207.5L669.8,209.6L668.6,208.0L667.9,210.4L666.4,210.4L663.7,210.4L663.9,211.2L662.4,213.5L659.9,211.2L657.0,210.2L655.3,211.2L653.7,211.2ZM651.1,212.3L653.5,213.9L654.4,215.2L654.8,218.9L653.7,219.9L651.5,217.3L649.3,214.6L650.3,213.1ZM654.6,212.3L657.9,211.2L659.6,212.5L659.0,213.9L656.9,215.2L654.8,213.9ZM660.9,192.3L658.9,189.7L660.2,187.8L657.5,182.1L658.0,181.9L663.2,185.0L667.0,185.0L669.1,187.6L666.7,188.6L666.7,191.0L662.7,189.7L661.1,190.2L662.2,191.5Z" fill="#e0ecf4"/>
<path d="M629.4,196.5L630.4,191.8L634.9,192.3L636.4,188.6L639.1,189.9L638.8,192.3L639.6,194.1L636.6,196.7L637.1,198.3L639.8,199.9L637.2,202.0L634.2,202.3L632.7,201.2L632.3,198.0Z" fill="#9ebcda"/>
<path d="M637.2,202.0L639.8,199.9L644.0,204.1L646.2,208.0L645.6,209.1L643.4,210.2L640.6,210.9L639.2,208.0L638.2,205.2L637.7,203.6ZM641.3,213.9L642.6,213.3L642.3,214.1Z" fill="#e0ecf4"/>
<path d="M639.1,189.9L639.0,187.3L636.6,183.7L637.3,182.4L640.1,182.9L638.1,177.2L637.8,174.4L634.5,176.2L631.2,176.2L628.5,173.1L624.2,171.8L620.0,169.8L610.7,162.7L605.5,161.3L600.7,161.9L602.0,166.0L602.8,169.5L601.3,171.5L598.6,170.8L599.3,175.7L604.1,176.2L609.8,178.5L605.3,179.5L603.9,181.3L599.8,183.7L597.7,186.5L595.9,188.9L589.8,191.5L585.8,192.0L575.8,189.4L566.2,189.2L562.0,185.0L557.5,183.1L551.8,182.6L549.9,178.0L543.7,174.9L540.7,172.3L539.8,172.6L537.3,174.4L538.5,178.0L533.1,177.5L533.5,181.9L534.3,182.6L530.3,183.7L532.5,187.8L531.8,188.4L532.3,190.5L529.6,192.8L526.2,193.6L522.8,194.9L521.0,197.3L521.7,199.9L525.1,202.8L525.1,203.4L524.6,204.1L527.4,204.9L532.7,208.0L533.5,209.4L536.2,211.2L536.6,213.9L538.2,215.7L537.0,217.3L537.7,219.4L540.1,220.2L543.3,222.0L546.1,222.6L551.1,225.5L555.7,228.1L560.4,228.1L562.0,227.9L563.5,227.6L565.7,227.6L568.4,228.4L569.3,228.4L572.1,226.0L575.2,224.7L578.0,224.2L580.9,227.1L581.0,226.5L584.5,228.9L585.5,233.4L583.6,236.3L584.2,238.4L586.9,238.2L587.3,240.5L588.8,241.3L588.4,243.2L590.7,245.0L592.9,244.2L593.4,245.8L594.7,245.8L593.9,242.4L594.9,242.6L598.9,242.1L601.8,240.3L605.2,241.6L605.4,243.7L608.8,245.0L612.2,245.0L613.2,248.2L615.1,248.2L614.6,245.5L617.4,244.8L621.0,243.2L622.8,242.9L625.3,241.8L627.8,240.3L630.3,237.1L633.0,233.1L633.6,230.5L634.2,227.9L635.3,222.8L632.3,221.8L634.0,219.9L633.3,218.1L630.2,215.7L627.3,211.2L624.3,209.9L624.3,209.1L625.4,206.7L629.1,204.4L628.7,203.0L624.1,202.0L620.7,203.0L617.9,201.2L616.5,199.4L618.6,198.3L619.6,196.2L621.0,194.1L622.9,194.1L624.0,198.8L624.8,199.1L626.9,197.3L629.4,196.5L630.4,191.8L634.9,192.3L636.4,188.6ZM611.4,250.8L614.0,248.7L616.5,250.0L614.7,253.2L611.9,252.9Z" fill="#88419d"/>
<path d="M540.7,172.3L543.3,170.5L548.2,168.2L554.4,170.3L560.3,169.0L558.5,167.7L559.1,165.0L566.9,167.0L568.2,168.7L572.3,169.8L577.6,169.5L582.9,172.1L587.5,172.6L591.1,171.5L592.9,169.5L598.6,170.8L599.3,175.7L604.1,176.2L609.8,178.5L605.3,179.5L603.9,181.3L599.8,183.7L597.7,186.5L595.9,188.9L589.8,191.5L585.8,192.0L575.8,189.4L566.2,189.2L562.0,185.0L557.5,183.1L551.8,182.6L549.9,178.0L543.7,174.9Z" fill="#e0ecf4"/>
<path d="M692.7,330.1L694.3,334.8L694.3,339.8L697.6,341.4L697.3,342.7L698.1,346.7L697.8,351.7L698.8,352.8L702.8,355.4L703.2,357.5L705.7,362.0L705.4,363.6L708.8,368.6L707.3,374.2L707.3,377.3L704.1,382.4L700.6,387.4L696.2,391.1L691.3,396.1L688.5,400.3L688.0,400.8L682.0,402.1L678.1,405.0L676.0,402.9L676.5,401.9L672.2,404.2L667.8,402.4L666.7,399.5L667.4,396.9L665.8,395.8L666.7,394.0L664.8,394.8L663.0,394.8L666.0,391.1L667.7,387.9L661.7,392.9L661.0,394.0L659.3,389.0L659.0,386.6L654.0,385.0L649.1,385.5L641.9,387.1L636.7,389.0L634.7,391.3L631.2,391.3L627.0,391.3L621.2,394.4L617.3,393.7L615.7,392.5L616.2,390.5L619.3,386.3L619.3,381.8L619.5,377.9L619.1,374.4L618.7,370.5L619.9,366.5L621.3,361.5L622.6,359.4L623.7,359.4L629.3,356.2L633.6,355.4L639.4,353.6L642.9,349.2L645.2,345.1L646.4,347.8L649.0,344.8L652.0,340.1L655.5,338.1L658.2,340.9L660.0,341.2L661.4,341.2L662.8,337.2L665.0,334.5L667.9,331.6L669.0,333.8L671.4,333.0L674.8,334.0L678.9,334.0L676.7,336.9L675.9,341.2L678.0,343.5L682.1,346.4L686.1,348.0L688.1,344.1L689.4,338.8L690.6,335.1L691.4,330.9ZM671.9,409.2L675.1,410.3L679.3,409.7L677.0,413.1L674.4,415.8L671.4,416.8L669.9,416.5L670.4,413.1L671.1,410.5Z" fill="#f7fcfd"/>
<path d="M742.7,392.7L744.8,395.0L743.3,399.0L744.4,401.1L744.8,401.3L748.9,401.1L749.8,401.3L745.9,405.3L743.2,406.1L741.5,408.4L735.6,411.6L735.1,410.8L738.3,407.9L738.4,407.1L736.8,405.6L739.6,404.0L741.6,401.6L742.3,399.5L742.7,397.9L742.1,394.8ZM732.3,408.7L733.8,409.7L734.3,410.5L733.2,411.8L730.5,413.7L726.8,416.0L726.2,416.5L726.4,417.3L721.4,418.9L716.5,422.8L713.7,424.3L710.5,424.6L709.6,423.5L708.2,422.5L713.8,419.1L715.9,417.8L721.1,415.8L725.2,413.7L727.3,411.8L730.2,409.7ZM708.2,425.1L709.5,425.4L707.7,426.4Z" fill="#f7fcfd"/>
<path d="M737.7,355.1L740.5,357.3L743.0,360.7L741.4,360.7L738.2,357.3Z" fill="url(#ndm)"/>
<path d="M769.9,348.0L772.8,348.3L772.2,349.9L769.5,349.6ZM774.1,345.1L777.0,344.6L775.4,346.2Z" fill="#f7fcfd"/>
<path d="M746.9,340.6L748.2,341.4L747.7,343.3L746.7,342.7ZM747.8,344.1L748.7,345.1L747.9,345.6ZM748.9,348.3L749.5,348.8L748.7,348.9Z" fill="#f7fcfd"/>
<path d="M726.2,319.5L728.4,321.1L727.9,321.6L726.4,320.3ZM730.6,321.9L733.5,323.7L733.4,324.5L731.0,323.2ZM732.8,326.4L735.5,327.4L734.7,328.1L732.9,327.7ZM735.3,324.0L736.5,326.4L736.9,327.2L735.7,325.3ZM736.5,329.0L738.6,330.1L737.9,330.3L736.8,329.8Z" fill="#f7fcfd"/>
<path d="M461.8,332.7L462.4,332.2L462.9,332.7L462.3,333.2ZM464.4,334.0L464.9,333.6L465.3,334.0L464.8,334.4Z" fill="#f7fcfd"/>
<path d="M493.1,355.4L493.9,354.8L494.5,355.4L493.7,356.0Z" fill="#f7fcfd"/>
<path d="M488.2,357.5L489.0,356.9L489.6,357.5L488.9,358.2Z" fill="url(#ndm)"/>
<path d="M490.8,314.1L491.3,313.7L491.8,314.1L491.3,314.5Z" fill="#f7fcfd"/>
<path d="M501.5,431.5L503.8,430.2L505.2,431.5L502.9,432.8Z" fill="url(#ndm)"/>
<path d="M306.8,261.9L307.5,261.3L308.2,261.9L307.5,262.6ZM305.4,257.7L306.0,257.2L306.6,257.7L306.0,258.2ZM308.7,259.0L309.2,258.6L309.7,259.0L309.2,259.4Z" fill="#f7fcfd"/>
<path d="M376.9,301.1L377.4,300.7L377.9,301.1L377.4,301.6Z" fill="#f7fcfd"/>
<path d="M219.4,259.0L220.0,258.5L220.6,259.0L219.9,259.5ZM220.5,263.1L221.1,262.6L221.6,263.1L221.0,263.6ZM220.5,265.1L221.0,264.7L221.4,265.1L220.9,265.5ZM220.0,266.9L220.4,266.6L220.7,266.9L220.4,267.3ZM223.8,267.1L224.2,266.7L224.6,267.1L224.2,267.5ZM220.0,261.1L220.4,260.7L220.8,261.1L220.4,261.5ZM218.7,269.8L219.1,269.5L219.4,269.8L219.0,270.2Z" fill="#f7fcfd"/>
<path d="M485.4,268.8L486.6,268.3L487.8,268.8L486.6,269.3Z" fill="#bfd3e6"/>
<path d="M532.5,290.7L532.8,290.4L533.2,290.7L532.8,291.0ZM532.4,295.2L532.7,294.9L532.9,295.2L532.7,295.5Z" fill="#f7fcfd"/>
<path d="M576.4,269.3L576.8,266.9L577.5,269.3L577.2,271.7Z" fill="#6e016b"/>
<path d="M148.6,303.6L149.5,302.8L150.4,303.6L149.5,304.5ZM150.9,303.4L151.4,303.0L151.8,303.4L151.4,303.8Z" fill="#bfd3e6"/>
<path d="M364.6,199.0L365.0,198.5L365.5,199.0L365.0,199.4Z" fill="#f7fcfd"/>
<path d="M-37.5,337.7L-36.9,337.1L-36.1,337.7L-36.7,338.4ZM-35.6,338.5L-35.1,338.0L-34.5,338.5L-35.0,339.0Z" fill="#f7fcfd"/>
<path d="M-39.0,357.8L-38.7,357.4L-38.1,357.8L-38.4,358.2Z" fill="#f7fcfd"/>
<path d="M53.1,137.3L56.1,136.6L57.4,137.3L54.3,138.0Z" fill="#e0ecf4"/>
<path d="M51.2,145.1L53.4,144.4L53.8,145.1L51.6,145.8Z" fill="#e0ecf4"/>
<path d="M3.7,246.9L4.5,246.2L5.1,246.9L4.2,247.5ZM0.4,245.1L1.1,244.6L1.5,245.1L0.8,245.7ZM-2.5,243.6L-2.0,243.1L-1.6,243.6L-2.2,244.0Z" fill="#e0ecf4"/>
<path d="M306.0,202.0L306.7,201.4L307.3,202.0L306.6,202.6ZM300.2,200.1L300.8,199.6L301.3,200.1L300.7,200.7Z" fill="#f7fcfd"/>
<path d="M348.5,140.6L349.3,139.8L349.9,140.6L349.2,141.4Z" fill="#f7fcfd"/>
<path d="M396.7,151.5L397.1,150.0L397.8,151.5L397.4,153.0Z" fill="#f7fcfd"/>
<path d="M403.7,149.0L404.6,148.3L405.6,149.0L404.8,149.8Z" fill="#f7fcfd"/>
<path d="M359.1,144.6L359.6,143.4L360.0,144.6L359.6,145.8Z" fill="#f7fcfd"/>
<path d="M348.1,150.7L348.8,149.0L349.3,150.7L348.6,152.5Z" fill="#f7fcfd"/>
<path d="M670.0,183.1L670.4,182.4L672.1,183.1L671.5,183.9ZM672.8,180.6L673.1,179.9L674.5,180.6L674.1,181.2ZM675.6,177.2L675.8,176.7L676.8,177.2L676.6,177.7ZM676.0,170.3L676.1,169.5L677.7,170.3L677.5,171.0Z" fill="#8c6bb1"/>
<path d="M650.7,231.8L651.2,231.2L652.1,231.8L651.6,232.4ZM652.8,227.1L653.2,226.5L653.9,227.1L653.5,227.6Z" fill="#e0ecf4"/>
<path d="M653.5,221.8L653.8,221.4L654.4,221.8L654.1,222.2Z" fill="#e0ecf4"/>
</g>
<g id="legend">
<rect x="157" y="502.5" width="47.7" height="10" fill="url(#nd)" stroke="#b5b5b5" stroke-width=".6"/>
<line x1="181" y1="499.8" x2="181" y2="502.5" stroke="#bbb" stroke-width=".6"/>
<text class="lg" x="180.8" y="495.9">No data</text>
<rect x="224.30" y="502.5" width="58.55" height="10" fill="#f7fcfd" stroke="#8a8a8a" stroke-width=".4"/>
<rect x="282.85" y="502.5" width="58.55" height="10" fill="#e0ecf4" stroke="#8a8a8a" stroke-width=".4"/>
<rect x="341.40" y="502.5" width="58.55" height="10" fill="#bfd3e6" stroke="#8a8a8a" stroke-width=".4"/>
<rect x="399.95" y="502.5" width="58.55" height="10" fill="#9ebcda" stroke="#8a8a8a" stroke-width=".4"/>
<rect x="458.50" y="502.5" width="58.55" height="10" fill="#8c96c6" stroke="#8a8a8a" stroke-width=".4"/>
<rect x="517.05" y="502.5" width="58.55" height="10" fill="#8c6bb1" stroke="#8a8a8a" stroke-width=".4"/>
<rect x="575.60" y="502.5" width="58.55" height="10" fill="#88419d" stroke="#8a8a8a" stroke-width=".4"/>
<path d="M634.15,502.5H687.70L692.70,507.5L687.70,512.5H634.15Z" fill="#6e016b" stroke="#8a8a8a" stroke-width=".4"/>
<line x1="224.30" y1="499.8" x2="224.30" y2="512.5" stroke="#8a8a8a" stroke-width=".6"/>
<text class="lg" x="224.70" y="495.9">0</text>
<line x1="282.85" y1="499.8" x2="282.85" y2="512.5" stroke="#8a8a8a" stroke-width=".6"/>
<text class="lg" x="283.25" y="495.9">100</text>
<line x1="341.40" y1="499.8" x2="341.40" y2="512.5" stroke="#8a8a8a" stroke-width=".6"/>
<text class="lg" x="341.80" y="495.9">300</text>
<line x1="399.95" y1="499.8" x2="399.95" y2="512.5" stroke="#8a8a8a" stroke-width=".6"/>
<text class="lg" x="400.35" y="495.9">1,000</text>
<line x1="458.50" y1="499.8" x2="458.50" y2="512.5" stroke="#8a8a8a" stroke-width=".6"/>
<text class="lg" x="458.90" y="495.9">3,000</text>
<line x1="517.05" y1="499.8" x2="517.05" y2="512.5" stroke="#8a8a8a" stroke-width=".6"/>
<text class="lg" x="517.45" y="495.9">10,000</text>
<line x1="575.60" y1="499.8" x2="575.60" y2="512.5" stroke="#8a8a8a" stroke-width=".6"/>
<text class="lg" x="576.00" y="495.9">30,000</text>
<line x1="634.15" y1="499.8" x2="634.15" y2="512.5" stroke="#8a8a8a" stroke-width=".6"/>
<text class="lg" x="634.55" y="495.9">100,000</text>
</g>
<text class="ft b" x="16.5" y="545" textLength="71.5" lengthAdjust="spacingAndGlyphs">Data source:</text>
<text class="ft" x="91.5" y="545" textLength="224" lengthAdjust="spacingAndGlyphs">IHME, Global Burden of Disease (2024)</text>
<text class="ft" x="714" y="545" textLength="115" lengthAdjust="spacingAndGlyphs">tuberculosis | CC BY</text>
<text class="ft b" x="16.5" y="565" textLength="31.5" lengthAdjust="spacingAndGlyphs">Note:</text>
<text class="ft" x="52.5" y="565" textLength="736.5" lengthAdjust="spacingAndGlyphs">Data includes tuberculosis cases in HIV-negative people. Tuberculosis cases among people with HIV are classified under HIV/AIDS</text>
<text class="ft" x="16.5" y="580" textLength="33.5" lengthAdjust="spacingAndGlyphs">cases.</text>
</svg>
</body></html>
